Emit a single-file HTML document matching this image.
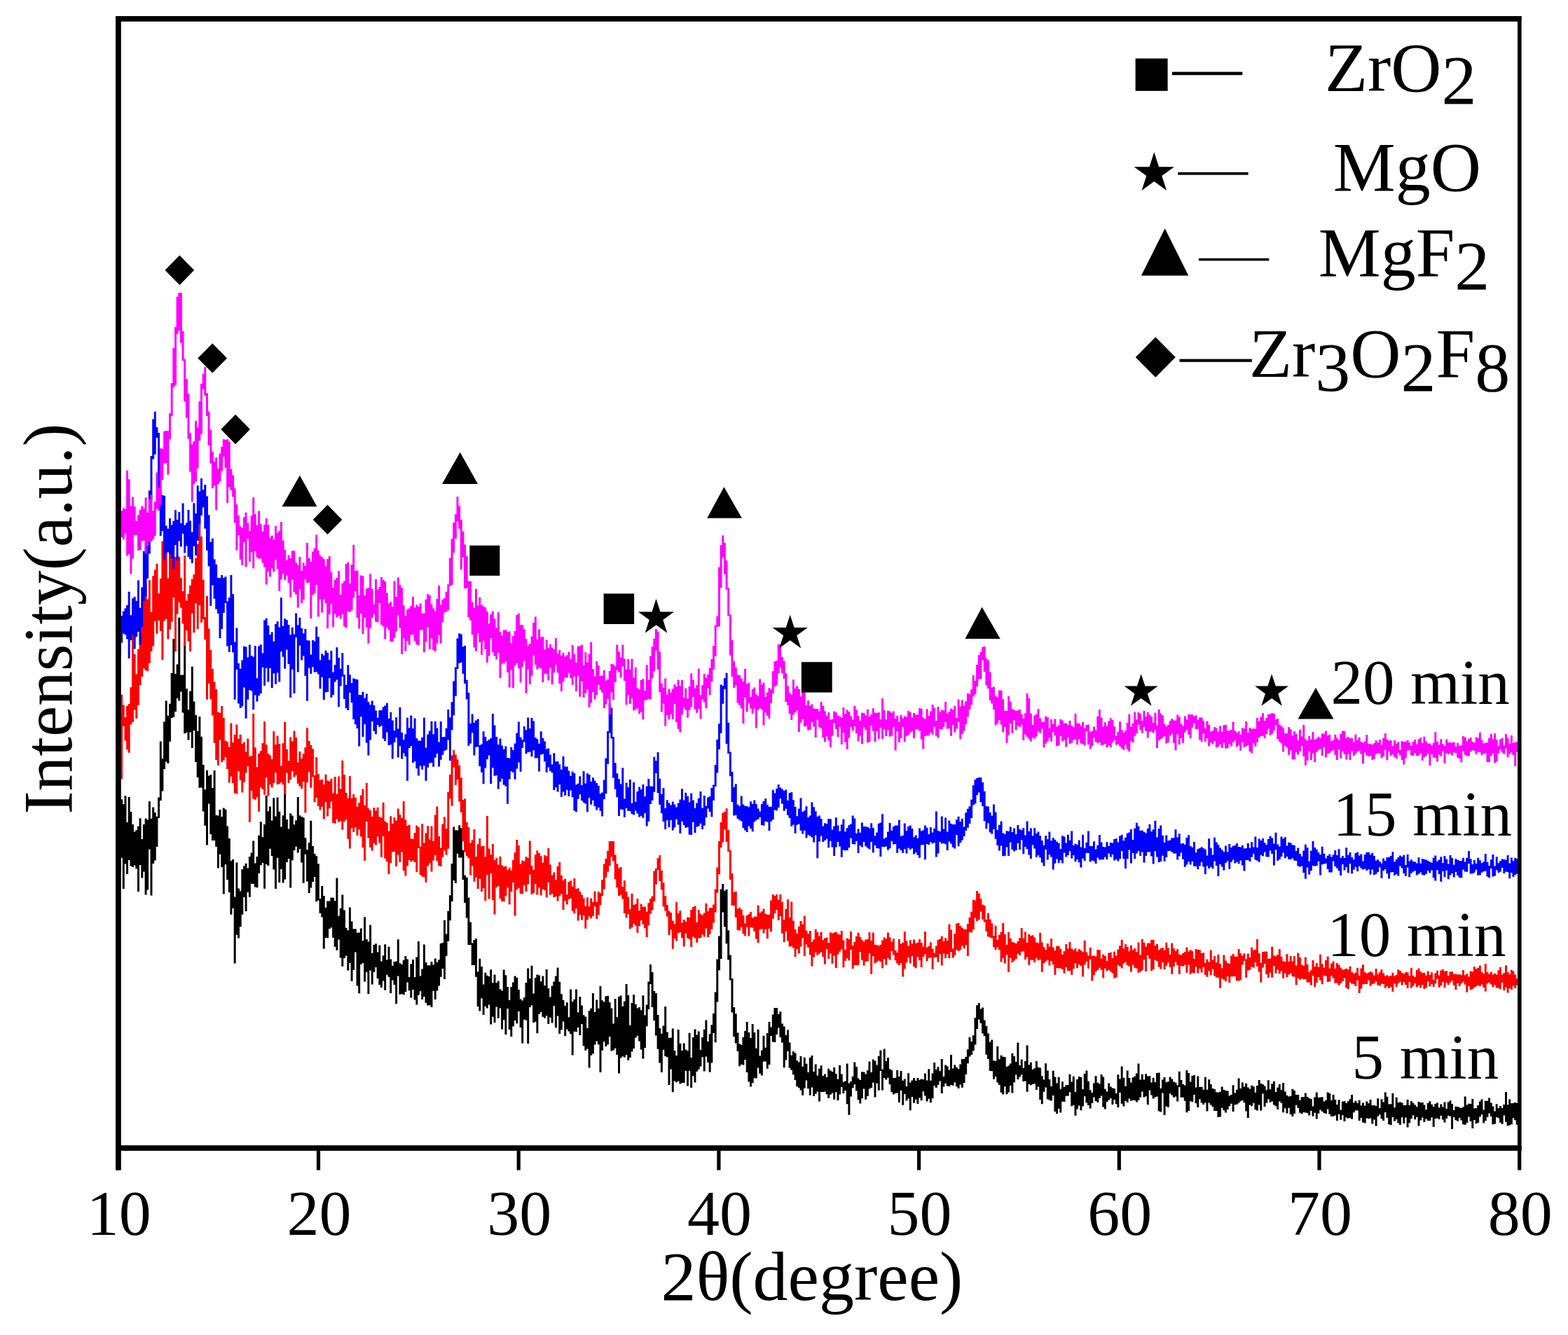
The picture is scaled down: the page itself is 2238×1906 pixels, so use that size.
<!DOCTYPE html>
<html><head><meta charset="utf-8"><title>XRD</title>
<style>
html,body{margin:0;padding:0;background:#fff;}
svg{display:block;}
text{font-family:"Liberation Serif","Times New Roman",serif;fill:#000;}
</style></head>
<body>
<svg xmlns="http://www.w3.org/2000/svg" width="2238" height="1906" viewBox="0 0 2238 1906">
<rect x="0" y="0" width="2238" height="1906" fill="#fff"/>
<g stroke="none">
<path fill="#000000" d="M168.8 1167.7h1.01v48.1h-1.01zM169.5 1137.7h2.95v108.0h-2.95zM172.2 1141.2h2.95v83.5h-2.95zM174.8 1148.3h2.95v120.6h-2.95zM177.5 1136.2h2.95v97.3h-2.95zM180.1 1174.0h2.95v74.0h-2.95zM182.7 1138.0h2.95v90.0h-2.95zM185.4 1159.0h2.95v77.4h-2.95zM188.0 1177.0h2.95v60.9h-2.95zM190.7 1187.6h2.95v48.0h-2.95zM193.3 1185.2h2.95v55.0h-2.95zM196.0 1179.8h2.95v93.2h-2.95zM198.6 1168.2h2.95v66.7h-2.95zM201.3 1197.9h2.95v55.7h-2.95zM203.9 1177.1h2.95v67.3h-2.95zM206.6 1168.4h2.95v109.0h-2.95zM209.2 1170.6h2.95v99.9h-2.95zM211.9 1143.9h2.95v68.8h-2.95zM214.5 1168.7h2.95v109.9h-2.95zM217.2 1152.4h2.95v80.7h-2.95zM219.8 1159.9h2.95v68.5h-2.95zM222.5 1165.7h2.95v43.2h-2.95zM225.1 1138.5h2.95v29.5h-2.95zM227.8 1058.4h2.95v84.7h-2.95zM230.4 1083.2h2.95v46.3h-2.95zM233.1 1030.6h2.95v67.4h-2.95zM235.7 1000.5h2.95v87.1h-2.95zM238.4 1021.7h2.95v68.2h-2.95zM241.0 1004.7h2.95v54.1h-2.95zM243.7 960.9h2.95v64.0h-2.95zM246.3 912.3h2.95v111.4h-2.95zM249.0 962.3h2.95v53.7h-2.95zM251.6 948.4h2.95v48.5h-2.95zM254.3 881.8h2.95v118.7h-2.95zM256.9 963.7h2.95v23.9h-2.95zM259.6 963.5h2.95v54.0h-2.95zM262.2 916.6h2.95v130.7h-2.95zM264.9 983.2h2.95v62.6h-2.95zM267.5 1013.2h2.95v43.4h-2.95zM270.1 986.8h2.95v58.8h-2.95zM272.8 951.8h2.95v116.3h-2.95zM275.4 1001.4h2.95v41.5h-2.95zM278.1 1020.8h2.95v67.2h-2.95zM280.7 1043.8h2.95v65.9h-2.95zM283.4 1023.1h2.95v101.6h-2.95zM286.0 1051.8h2.95v72.6h-2.95zM288.7 1091.9h2.95v66.6h-2.95zM291.3 1127.2h2.95v51.6h-2.95zM294.0 1099.7h2.95v106.7h-2.95zM296.6 1107.4h2.95v40.2h-2.95zM299.3 1106.0h2.95v84.9h-2.95zM301.9 1125.0h2.95v75.1h-2.95zM304.6 1100.1h2.95v99.8h-2.95zM307.2 1163.8h2.95v45.2h-2.95zM309.9 1164.6h2.95v74.9h-2.95zM312.5 1155.9h2.95v63.8h-2.95zM315.2 1166.1h2.95v71.8h-2.95zM317.8 1153.4h2.95v123.1h-2.95zM320.5 1155.7h2.95v78.5h-2.95zM323.1 1179.6h2.95v76.4h-2.95zM325.8 1196.9h2.95v77.0h-2.95zM328.4 1228.9h2.95v76.9h-2.95zM331.1 1227.0h2.95v69.7h-2.95zM333.7 1280.6h2.95v95.0h-2.95zM336.4 1231.6h2.95v103.2h-2.95zM339.0 1268.4h2.95v71.1h-2.95zM341.7 1272.2h2.95v51.0h-2.95zM344.3 1241.3h2.95v64.4h-2.95zM347.0 1236.6h2.95v44.4h-2.95zM349.6 1232.8h2.95v68.1h-2.95zM352.3 1239.4h2.95v34.7h-2.95zM354.9 1223.1h2.95v57.7h-2.95zM357.6 1217.4h2.95v44.4h-2.95zM360.2 1200.5h2.95v61.4h-2.95zM362.8 1232.4h2.95v34.1h-2.95zM365.5 1223.0h2.95v44.3h-2.95zM368.1 1192.7h2.95v54.4h-2.95zM370.8 1173.3h2.95v62.0h-2.95zM373.4 1195.2h2.95v36.7h-2.95zM376.1 1177.1h2.95v91.6h-2.95zM378.7 1135.7h2.95v98.3h-2.95zM381.4 1158.2h2.95v77.9h-2.95zM384.0 1151.5h2.95v60.3h-2.95zM386.7 1171.5h2.95v50.4h-2.95zM389.3 1139.3h2.95v102.1h-2.95zM392.0 1165.4h2.95v103.6h-2.95zM394.6 1138.4h2.95v86.4h-2.95zM397.3 1158.7h2.95v101.3h-2.95zM399.9 1180.6h2.95v60.5h-2.95zM402.6 1164.2h2.95v96.2h-2.95zM405.2 1103.8h2.95v151.8h-2.95zM407.9 1170.1h2.95v60.8h-2.95zM410.5 1183.5h2.95v42.5h-2.95zM413.2 1161.2h2.95v106.2h-2.95zM415.8 1164.5h2.95v63.8h-2.95zM418.5 1177.2h2.95v36.9h-2.95zM421.1 1171.2h2.95v37.6h-2.95zM423.8 1137.9h2.95v79.5h-2.95zM426.4 1164.2h2.95v47.9h-2.95zM429.1 1166.1h2.95v65.5h-2.95zM431.7 1167.2h2.95v93.6h-2.95zM434.4 1196.2h2.95v23.6h-2.95zM437.0 1213.2h2.95v45.2h-2.95zM439.7 1203.2h2.95v71.7h-2.95zM442.3 1171.7h2.95v95.7h-2.95zM445.0 1208.0h2.95v50.9h-2.95zM447.6 1218.9h2.95v33.1h-2.95zM450.2 1222.2h2.95v65.0h-2.95zM452.9 1233.3h2.95v52.1h-2.95zM455.5 1283.0h2.95v20.7h-2.95zM458.2 1265.0h2.95v44.6h-2.95zM460.8 1279.1h2.95v75.5h-2.95zM463.5 1295.8h2.95v43.3h-2.95zM466.1 1286.4h2.95v52.9h-2.95zM468.8 1286.5h2.95v39.5h-2.95zM471.4 1281.6h2.95v42.7h-2.95zM474.1 1281.7h2.95v57.1h-2.95zM476.7 1286.3h2.95v65.4h-2.95zM479.4 1253.5h2.95v103.3h-2.95zM482.0 1307.7h2.95v33.9h-2.95zM484.7 1296.7h2.95v70.8h-2.95zM487.3 1277.6h2.95v102.1h-2.95zM490.0 1299.6h2.95v68.3h-2.95zM492.6 1324.8h2.95v39.6h-2.95zM495.3 1328.2h2.95v57.3h-2.95zM497.9 1295.5h2.95v79.6h-2.95zM500.6 1315.6h2.95v85.2h-2.95zM503.2 1326.2h2.95v58.9h-2.95zM505.9 1326.2h2.95v33.4h-2.95zM508.5 1331.8h2.95v75.7h-2.95zM511.2 1331.5h2.95v86.7h-2.95zM513.8 1325.4h2.95v51.5h-2.95zM516.5 1343.0h2.95v32.0h-2.95zM519.1 1309.3h2.95v92.2h-2.95zM521.8 1340.9h2.95v47.1h-2.95zM524.4 1344.5h2.95v74.4h-2.95zM527.1 1320.5h2.95v65.0h-2.95zM529.7 1360.8h2.95v44.7h-2.95zM532.4 1348.9h2.95v38.9h-2.95zM535.0 1347.2h2.95v33.9h-2.95zM537.6 1359.4h2.95v37.6h-2.95zM540.3 1349.5h2.95v56.5h-2.95zM542.9 1372.4h2.95v37.6h-2.95zM545.6 1364.2h2.95v36.2h-2.95zM548.2 1348.3h2.95v65.4h-2.95zM550.9 1370.5h2.95v21.3h-2.95zM553.5 1351.8h2.95v43.0h-2.95zM556.2 1369.5h2.95v48.4h-2.95zM558.8 1378.8h2.95v20.7h-2.95zM561.5 1372.9h2.95v33.0h-2.95zM564.1 1372.6h2.95v60.6h-2.95zM566.8 1341.3h2.95v52.2h-2.95zM569.4 1375.2h2.95v44.5h-2.95zM572.1 1376.7h2.95v42.6h-2.95zM574.7 1370.7h2.95v49.5h-2.95zM577.4 1365.1h2.95v51.1h-2.95zM580.0 1369.5h2.95v33.1h-2.95zM582.7 1395.1h2.95v19.2h-2.95zM585.3 1376.3h2.95v48.2h-2.95zM588.0 1369.9h2.95v43.1h-2.95zM590.6 1394.9h2.95v32.5h-2.95zM593.3 1366.5h2.95v68.0h-2.95zM595.9 1344.0h2.95v76.7h-2.95zM598.6 1393.4h2.95v21.9h-2.95zM601.2 1383.4h2.95v43.7h-2.95zM603.9 1348.5h2.95v74.4h-2.95zM606.5 1374.1h2.95v57.7h-2.95zM609.2 1378.3h2.95v57.3h-2.95zM611.8 1378.3h2.95v56.6h-2.95zM614.5 1373.2h2.95v64.9h-2.95zM617.1 1377.4h2.95v37.3h-2.95zM619.8 1368.4h2.95v58.5h-2.95zM622.4 1373.7h2.95v40.8h-2.95zM625.1 1370.2h2.95v37.3h-2.95zM627.7 1347.0h2.95v47.8h-2.95zM630.3 1346.1h2.95v37.0h-2.95zM633.0 1313.8h2.95v84.3h-2.95zM635.6 1333.6h2.95v31.2h-2.95zM638.3 1300.7h2.95v43.1h-2.95zM640.9 1278.3h2.95v36.0h-2.95zM643.6 1233.1h2.95v53.8h-2.95zM646.2 1180.5h2.95v76.6h-2.95zM648.9 1185.3h2.95v75.7h-2.95zM651.5 1185.5h2.95v33.2h-2.95zM654.2 1178.3h2.95v46.3h-2.95zM656.8 1182.2h2.95v42.0h-2.95zM659.5 1213.7h2.95v42.2h-2.95zM662.1 1249.8h2.95v39.2h-2.95zM664.8 1252.7h2.95v57.7h-2.95zM667.4 1281.6h2.95v67.5h-2.95zM670.1 1316.5h2.95v32.4h-2.95zM672.7 1346.5h2.95v31.5h-2.95zM675.4 1342.1h2.95v36.0h-2.95zM678.0 1339.9h2.95v54.9h-2.95zM680.7 1387.3h2.95v49.6h-2.95zM683.3 1368.7h2.95v74.9h-2.95zM686.0 1380.0h2.95v45.3h-2.95zM688.6 1405.4h2.95v43.7h-2.95zM691.3 1388.7h2.95v48.0h-2.95zM693.9 1392.7h2.95v46.7h-2.95zM696.6 1394.0h2.95v40.5h-2.95zM699.2 1384.3h2.95v78.3h-2.95zM701.9 1403.2h2.95v48.5h-2.95zM704.5 1391.6h2.95v68.3h-2.95zM707.2 1403.2h2.95v34.3h-2.95zM709.8 1400.4h2.95v53.4h-2.95zM712.5 1412.2h2.95v27.2h-2.95zM715.1 1414.5h2.95v54.9h-2.95zM717.7 1384.5h2.95v71.8h-2.95zM720.4 1392.3h2.95v84.8h-2.95zM723.0 1409.0h2.95v30.9h-2.95zM725.7 1427.9h2.95v42.0h-2.95zM728.3 1409.1h2.95v70.9h-2.95zM731.0 1402.4h2.95v62.8h-2.95zM733.6 1393.6h2.95v63.3h-2.95zM736.3 1395.8h2.95v65.4h-2.95zM738.9 1413.0h2.95v31.1h-2.95zM741.6 1426.6h2.95v40.3h-2.95zM744.2 1428.5h2.95v61.1h-2.95zM746.9 1423.9h2.95v31.8h-2.95zM749.5 1403.1h2.95v53.3h-2.95zM752.2 1382.6h2.95v107.3h-2.95zM754.8 1397.1h2.95v41.0h-2.95zM757.5 1378.7h2.95v56.5h-2.95zM760.1 1418.6h2.95v41.5h-2.95zM762.8 1395.9h2.95v62.8h-2.95zM765.4 1391.4h2.95v83.8h-2.95zM768.1 1392.5h2.95v55.3h-2.95zM770.7 1401.2h2.95v43.7h-2.95zM773.4 1393.6h2.95v58.2h-2.95zM776.0 1407.1h2.95v46.5h-2.95zM778.7 1383.9h2.95v66.3h-2.95zM781.3 1411.1h2.95v51.0h-2.95zM784.0 1423.4h2.95v29.3h-2.95zM786.6 1407.5h2.95v53.1h-2.95zM789.3 1401.6h2.95v34.7h-2.95zM791.9 1393.4h2.95v73.9h-2.95zM794.6 1381.4h2.95v69.2h-2.95zM797.2 1401.7h2.95v74.2h-2.95zM799.9 1419.3h2.95v50.9h-2.95zM802.5 1428.0h2.95v30.5h-2.95zM805.2 1436.0h2.95v43.2h-2.95zM807.8 1431.3h2.95v38.3h-2.95zM810.4 1452.2h2.95v20.2h-2.95zM813.1 1412.4h2.95v63.9h-2.95zM815.7 1430.3h2.95v76.1h-2.95zM818.4 1426.7h2.95v46.0h-2.95zM821.0 1412.5h2.95v60.8h-2.95zM823.7 1445.2h2.95v21.7h-2.95zM826.3 1423.0h2.95v54.9h-2.95zM829.0 1435.5h2.95v26.6h-2.95zM831.6 1449.2h2.95v44.0h-2.95zM834.3 1451.4h2.95v48.4h-2.95zM836.9 1468.0h2.95v29.4h-2.95zM839.6 1443.3h2.95v81.2h-2.95zM842.2 1439.8h2.95v67.0h-2.95zM844.9 1418.1h2.95v86.4h-2.95zM847.5 1444.9h2.95v46.7h-2.95zM850.2 1427.4h2.95v59.2h-2.95zM852.8 1439.8h2.95v51.4h-2.95zM855.5 1407.8h2.95v123.3h-2.95zM858.1 1428.2h2.95v71.6h-2.95zM860.8 1430.4h2.95v56.9h-2.95zM863.4 1422.3h2.95v71.7h-2.95zM866.1 1421.8h2.95v69.4h-2.95zM868.7 1431.1h2.95v48.9h-2.95zM871.4 1439.5h2.95v60.9h-2.95zM874.0 1461.6h2.95v38.0h-2.95zM876.7 1426.0h2.95v70.7h-2.95zM879.3 1452.0h2.95v54.0h-2.95zM882.0 1423.1h2.95v109.5h-2.95zM884.6 1421.5h2.95v88.9h-2.95zM887.3 1436.8h2.95v71.4h-2.95zM889.9 1429.7h2.95v79.7h-2.95zM892.6 1405.1h2.95v100.9h-2.95zM895.2 1420.7h2.95v93.1h-2.95zM897.8 1463.8h2.95v46.1h-2.95zM900.5 1432.1h2.95v69.2h-2.95zM903.1 1420.0h2.95v76.9h-2.95zM905.8 1433.8h2.95v47.6h-2.95zM908.4 1439.5h2.95v39.2h-2.95zM911.1 1438.0h2.95v48.4h-2.95zM913.7 1442.2h2.95v56.4h-2.95zM916.4 1421.3h2.95v90.1h-2.95zM919.0 1449.4h2.95v46.6h-2.95zM921.7 1434.4h2.95v30.9h-2.95zM924.3 1401.6h2.95v39.5h-2.95zM927.0 1377.0h2.95v28.1h-2.95zM929.6 1388.1h2.95v49.9h-2.95zM932.3 1415.1h2.95v41.9h-2.95zM934.9 1418.0h2.95v60.6h-2.95zM937.6 1449.1h2.95v48.7h-2.95zM940.2 1468.1h2.95v49.3h-2.95zM942.9 1475.8h2.95v55.1h-2.95zM945.5 1464.6h2.95v34.2h-2.95zM948.2 1437.0h2.95v71.1h-2.95zM950.8 1473.6h2.95v35.7h-2.95zM953.5 1482.0h2.95v67.1h-2.95zM956.1 1481.4h2.95v45.0h-2.95zM958.8 1468.4h2.95v90.9h-2.95zM961.4 1500.0h2.95v43.6h-2.95zM964.1 1507.1h2.95v38.2h-2.95zM966.7 1469.9h2.95v73.5h-2.95zM969.4 1489.8h2.95v57.7h-2.95zM972.0 1499.9h2.95v46.2h-2.95zM974.7 1489.4h2.95v56.7h-2.95zM977.3 1498.5h2.95v30.4h-2.95zM980.0 1500.3h2.95v50.3h-2.95zM982.6 1474.7h2.95v54.4h-2.95zM985.2 1510.0h2.95v42.9h-2.95zM987.9 1481.0h2.95v55.2h-2.95zM990.5 1469.5h2.95v76.0h-2.95zM993.2 1477.5h2.95v52.2h-2.95zM995.8 1472.4h2.95v54.4h-2.95zM998.5 1499.1h2.95v23.3h-2.95zM1001.1 1481.1h2.95v28.2h-2.95zM1003.8 1469.7h2.95v59.8h-2.95zM1006.4 1456.6h2.95v51.8h-2.95zM1009.1 1487.0h2.95v29.8h-2.95zM1011.7 1476.2h2.95v54.6h-2.95zM1014.4 1463.3h2.95v54.3h-2.95zM1017.0 1446.9h2.95v28.2h-2.95zM1019.7 1416.6h2.95v71.6h-2.95zM1022.3 1369.5h2.95v61.0h-2.95zM1025.0 1336.6h2.95v48.7h-2.95zM1027.6 1269.6h2.95v99.4h-2.95zM1030.3 1262.0h2.95v40.4h-2.95zM1032.9 1271.8h2.95v51.4h-2.95zM1035.6 1269.8h2.95v77.4h-2.95zM1038.2 1328.3h2.95v42.2h-2.95zM1040.9 1363.5h2.95v36.0h-2.95zM1043.5 1397.0h2.95v48.4h-2.95zM1046.2 1437.9h2.95v42.0h-2.95zM1048.8 1447.2h2.95v42.4h-2.95zM1051.5 1474.6h2.95v26.1h-2.95zM1054.1 1490.3h2.95v31.9h-2.95zM1056.8 1491.8h2.95v27.9h-2.95zM1059.4 1480.8h2.95v39.6h-2.95zM1062.1 1472.1h2.95v41.0h-2.95zM1064.7 1458.9h2.95v72.2h-2.95zM1067.4 1474.0h2.95v70.5h-2.95zM1070.0 1482.0h2.95v69.5h-2.95zM1072.7 1462.0h2.95v84.3h-2.95zM1075.3 1473.9h2.95v65.3h-2.95zM1077.9 1496.7h2.95v42.8h-2.95zM1080.6 1469.7h2.95v54.7h-2.95zM1083.2 1507.4h2.95v25.3h-2.95zM1085.9 1499.4h2.95v36.1h-2.95zM1088.5 1478.7h2.95v36.7h-2.95zM1091.2 1495.7h2.95v19.8h-2.95zM1093.8 1475.0h2.95v50.8h-2.95zM1096.5 1459.0h2.95v61.0h-2.95zM1099.1 1466.4h2.95v12.6h-2.95zM1101.8 1448.5h2.95v39.0h-2.95zM1104.4 1439.0h2.95v48.9h-2.95zM1107.1 1439.0h2.95v37.9h-2.95zM1109.7 1447.8h2.95v19.7h-2.95zM1112.4 1444.2h2.95v36.9h-2.95zM1115.0 1461.6h2.95v26.9h-2.95zM1117.7 1465.5h2.95v58.8h-2.95zM1120.3 1477.7h2.95v35.9h-2.95zM1123.0 1470.4h2.95v30.3h-2.95zM1125.6 1488.6h2.95v36.2h-2.95zM1128.3 1506.7h2.95v21.0h-2.95zM1130.9 1501.1h2.95v33.1h-2.95zM1133.6 1503.4h2.95v38.6h-2.95zM1136.2 1514.3h2.95v37.0h-2.95zM1138.9 1516.6h2.95v36.5h-2.95zM1141.5 1507.9h2.95v48.5h-2.95zM1144.2 1522.7h2.95v41.0h-2.95zM1146.8 1509.7h2.95v44.1h-2.95zM1149.5 1518.8h2.95v23.6h-2.95zM1152.1 1531.0h2.95v23.3h-2.95zM1154.8 1510.1h2.95v53.6h-2.95zM1157.4 1507.0h2.95v45.5h-2.95zM1160.1 1530.0h2.95v35.1h-2.95zM1162.7 1519.5h2.95v42.3h-2.95zM1165.3 1535.4h2.95v23.1h-2.95zM1168.0 1525.7h2.95v46.8h-2.95zM1170.6 1521.3h2.95v37.7h-2.95zM1173.3 1536.0h2.95v23.0h-2.95zM1175.9 1533.5h2.95v25.0h-2.95zM1178.6 1537.9h2.95v24.3h-2.95zM1181.2 1525.8h2.95v41.9h-2.95zM1183.9 1528.4h2.95v34.3h-2.95zM1186.5 1530.3h2.95v30.1h-2.95zM1189.2 1523.9h2.95v45.9h-2.95zM1191.8 1533.2h2.95v26.0h-2.95zM1194.5 1540.7h2.95v30.3h-2.95zM1197.1 1520.8h2.95v41.6h-2.95zM1199.8 1533.6h2.95v18.3h-2.95zM1202.4 1544.7h2.95v16.3h-2.95zM1205.1 1543.5h2.95v13.6h-2.95zM1207.7 1518.5h2.95v57.8h-2.95zM1210.4 1546.4h2.95v45.3h-2.95zM1213.0 1543.9h2.95v21.5h-2.95zM1215.7 1536.8h2.95v16.4h-2.95zM1218.3 1516.4h2.95v31.9h-2.95zM1221.0 1522.9h2.95v34.7h-2.95zM1223.6 1539.6h2.95v30.6h-2.95zM1226.3 1541.9h2.95v33.6h-2.95zM1228.9 1530.3h2.95v38.0h-2.95zM1231.6 1530.5h2.95v23.9h-2.95zM1234.2 1533.6h2.95v36.1h-2.95zM1236.9 1528.0h2.95v37.0h-2.95zM1239.5 1515.6h2.95v38.8h-2.95zM1242.2 1531.1h2.95v22.0h-2.95zM1244.8 1512.4h2.95v33.4h-2.95zM1247.5 1514.4h2.95v52.0h-2.95zM1250.1 1520.6h2.95v26.1h-2.95zM1252.8 1507.7h2.95v49.1h-2.95zM1255.4 1499.4h2.95v29.7h-2.95zM1258.0 1526.7h2.95v29.7h-2.95zM1260.7 1497.6h2.95v41.4h-2.95zM1263.3 1515.1h2.95v26.4h-2.95zM1266.0 1509.9h2.95v28.8h-2.95zM1268.6 1526.2h2.95v22.0h-2.95zM1271.3 1527.7h2.95v31.2h-2.95zM1273.9 1538.9h2.95v23.6h-2.95zM1276.6 1538.8h2.95v22.3h-2.95zM1279.2 1527.8h2.95v32.6h-2.95zM1281.9 1536.8h2.95v37.2h-2.95zM1284.5 1529.0h2.95v28.1h-2.95zM1287.2 1542.8h2.95v35.0h-2.95zM1289.8 1540.6h2.95v21.5h-2.95zM1292.5 1550.9h2.95v20.7h-2.95zM1295.1 1532.3h2.95v36.1h-2.95zM1297.8 1545.6h2.95v39.7h-2.95zM1300.4 1542.5h2.95v23.4h-2.95zM1303.1 1539.0h2.95v35.7h-2.95zM1305.7 1543.0h2.95v26.7h-2.95zM1308.4 1538.9h2.95v37.2h-2.95zM1311.0 1541.7h2.95v25.9h-2.95zM1313.7 1540.4h2.95v30.8h-2.95zM1316.3 1541.3h2.95v17.0h-2.95zM1319.0 1532.5h2.95v32.1h-2.95zM1321.6 1542.4h2.95v30.1h-2.95zM1324.3 1526.3h2.95v42.4h-2.95zM1326.9 1542.7h2.95v31.6h-2.95zM1329.6 1532.6h2.95v35.7h-2.95zM1332.2 1517.1h2.95v33.1h-2.95zM1334.9 1527.1h2.95v25.9h-2.95zM1337.5 1523.2h2.95v25.5h-2.95zM1340.2 1529.2h2.95v14.4h-2.95zM1342.8 1511.9h2.95v49.2h-2.95zM1345.4 1537.0h2.95v14.6h-2.95zM1348.1 1520.6h2.95v26.1h-2.95zM1350.7 1522.6h2.95v27.9h-2.95zM1353.4 1527.6h2.95v23.4h-2.95zM1356.0 1506.0h2.95v42.9h-2.95zM1358.7 1525.5h2.95v24.3h-2.95zM1361.3 1520.5h2.95v24.9h-2.95zM1364.0 1523.9h2.95v27.3h-2.95zM1366.6 1526.3h2.95v27.8h-2.95zM1369.3 1519.6h2.95v28.8h-2.95zM1371.9 1511.9h2.95v40.9h-2.95zM1374.6 1512.0h2.95v33.9h-2.95zM1377.2 1509.1h2.95v24.8h-2.95zM1379.9 1498.3h2.95v20.0h-2.95zM1382.5 1480.7h2.95v27.7h-2.95zM1385.2 1486.9h2.95v19.0h-2.95zM1387.8 1478.2h2.95v22.1h-2.95zM1390.5 1453.0h2.95v38.4h-2.95zM1393.1 1435.3h2.95v33.6h-2.95zM1395.8 1432.0h2.95v23.4h-2.95zM1398.4 1440.4h2.95v20.3h-2.95zM1401.1 1438.4h2.95v37.1h-2.95zM1403.7 1456.4h2.95v22.8h-2.95zM1406.4 1464.7h2.95v41.0h-2.95zM1409.0 1475.4h2.95v36.7h-2.95zM1411.7 1487.4h2.95v41.7h-2.95zM1414.3 1484.4h2.95v44.9h-2.95zM1417.0 1514.3h2.95v26.4h-2.95zM1419.6 1514.7h2.95v22.3h-2.95zM1422.3 1493.7h2.95v51.8h-2.95zM1424.9 1512.2h2.95v36.9h-2.95zM1427.6 1506.8h2.95v52.9h-2.95zM1430.2 1508.7h2.95v53.7h-2.95zM1432.8 1509.3h2.95v42.0h-2.95zM1435.5 1523.1h2.95v39.1h-2.95zM1438.1 1521.4h2.95v38.2h-2.95zM1440.8 1518.6h2.95v31.4h-2.95zM1443.4 1503.8h2.95v56.7h-2.95zM1446.1 1507.9h2.95v37.4h-2.95zM1448.7 1516.0h2.95v18.4h-2.95zM1451.4 1488.7h2.95v52.2h-2.95zM1454.0 1521.0h2.95v16.5h-2.95zM1456.7 1512.4h2.95v21.9h-2.95zM1459.3 1524.7h2.95v19.3h-2.95zM1462.0 1515.0h2.95v28.5h-2.95zM1464.6 1492.6h2.95v66.2h-2.95zM1467.3 1520.2h2.95v27.8h-2.95zM1469.9 1516.8h2.95v32.5h-2.95zM1472.6 1527.1h2.95v21.0h-2.95zM1475.2 1525.3h2.95v21.9h-2.95zM1477.9 1514.9h2.95v41.0h-2.95zM1480.5 1523.8h2.95v27.7h-2.95zM1483.2 1524.4h2.95v45.7h-2.95zM1485.8 1536.2h2.95v40.1h-2.95zM1488.5 1541.6h2.95v17.1h-2.95zM1491.1 1518.2h2.95v34.2h-2.95zM1493.8 1528.6h2.95v40.9h-2.95zM1496.4 1541.0h2.95v29.5h-2.95zM1499.1 1550.9h2.95v20.7h-2.95zM1501.7 1528.8h2.95v35.3h-2.95zM1504.4 1537.5h2.95v49.6h-2.95zM1507.0 1546.4h2.95v43.6h-2.95zM1509.7 1537.7h2.95v45.1h-2.95zM1512.3 1554.8h2.95v33.7h-2.95zM1515.0 1544.3h2.95v28.4h-2.95zM1517.6 1552.1h2.95v20.9h-2.95zM1520.3 1549.3h2.95v15.4h-2.95zM1522.9 1548.9h2.95v15.7h-2.95zM1525.5 1533.8h2.95v25.4h-2.95zM1528.2 1544.4h2.95v34.8h-2.95zM1530.8 1536.7h2.95v41.1h-2.95zM1533.5 1558.7h2.95v34.0h-2.95zM1536.1 1541.1h2.95v42.4h-2.95zM1538.8 1537.1h2.95v41.4h-2.95zM1541.4 1537.8h2.95v47.4h-2.95zM1544.1 1555.0h2.95v24.5h-2.95zM1546.7 1532.9h2.95v32.4h-2.95zM1549.4 1528.6h2.95v45.9h-2.95zM1552.0 1543.7h2.95v34.2h-2.95zM1554.7 1556.2h2.95v26.2h-2.95zM1557.3 1560.0h2.95v15.0h-2.95zM1560.0 1546.5h2.95v20.1h-2.95zM1562.6 1536.2h2.95v35.8h-2.95zM1565.3 1545.8h2.95v28.1h-2.95zM1567.9 1547.5h2.95v20.4h-2.95zM1570.6 1534.1h2.95v30.3h-2.95zM1573.2 1537.6h2.95v42.8h-2.95zM1575.9 1554.7h2.95v28.8h-2.95zM1578.5 1558.6h2.95v14.6h-2.95zM1581.2 1546.6h2.95v23.8h-2.95zM1583.8 1551.6h2.95v16.3h-2.95zM1586.5 1553.6h2.95v23.5h-2.95zM1589.1 1554.3h2.95v15.8h-2.95zM1591.8 1561.1h2.95v15.1h-2.95zM1594.4 1534.3h2.95v46.7h-2.95zM1597.1 1540.5h2.95v19.4h-2.95zM1599.7 1522.5h2.95v53.2h-2.95zM1602.4 1538.7h2.95v40.7h-2.95zM1605.0 1550.8h2.95v21.0h-2.95zM1607.7 1528.4h2.95v45.7h-2.95zM1610.3 1539.1h2.95v29.4h-2.95zM1612.9 1545.5h2.95v26.2h-2.95zM1615.6 1538.3h2.95v32.4h-2.95zM1618.2 1536.7h2.95v34.4h-2.95zM1620.9 1532.5h2.95v41.0h-2.95zM1623.5 1518.4h2.95v52.3h-2.95zM1626.2 1541.5h2.95v25.3h-2.95zM1628.8 1533.7h2.95v24.9h-2.95zM1631.5 1541.6h2.95v25.0h-2.95zM1634.1 1533.2h2.95v32.0h-2.95zM1636.8 1536.5h2.95v40.8h-2.95zM1639.4 1536.3h2.95v20.5h-2.95zM1642.1 1545.5h2.95v18.0h-2.95zM1644.7 1538.7h2.95v29.7h-2.95zM1647.4 1544.9h2.95v21.5h-2.95zM1650.0 1532.0h2.95v33.6h-2.95zM1652.7 1531.5h2.95v54.9h-2.95zM1655.3 1553.9h2.95v33.6h-2.95zM1658.0 1541.4h2.95v19.0h-2.95zM1660.6 1537.9h2.95v54.0h-2.95zM1663.3 1545.3h2.95v34.1h-2.95zM1665.9 1544.3h2.95v36.4h-2.95zM1668.6 1537.5h2.95v23.8h-2.95zM1671.2 1540.4h2.95v23.1h-2.95zM1673.9 1544.6h2.95v22.1h-2.95zM1676.5 1545.8h2.95v19.8h-2.95zM1679.2 1549.2h2.95v23.4h-2.95zM1681.8 1529.7h2.95v22.4h-2.95zM1684.5 1541.9h2.95v24.8h-2.95zM1687.1 1548.1h2.95v18.7h-2.95zM1689.8 1549.6h2.95v22.2h-2.95zM1692.4 1528.0h2.95v60.2h-2.95zM1695.1 1532.0h2.95v54.1h-2.95zM1697.7 1544.6h2.95v27.6h-2.95zM1700.4 1535.9h2.95v37.3h-2.95zM1703.0 1535.1h2.95v28.0h-2.95zM1705.6 1552.6h2.95v22.6h-2.95zM1708.3 1536.4h2.95v44.7h-2.95zM1710.9 1552.0h2.95v17.2h-2.95zM1713.6 1551.7h2.95v22.7h-2.95zM1716.2 1555.7h2.95v21.4h-2.95zM1718.9 1537.7h2.95v36.8h-2.95zM1721.5 1555.8h2.95v30.8h-2.95zM1724.2 1541.2h2.95v33.2h-2.95zM1726.8 1548.0h2.95v29.5h-2.95zM1729.5 1554.0h2.95v26.2h-2.95zM1732.1 1554.9h2.95v31.2h-2.95zM1734.8 1559.2h2.95v26.8h-2.95zM1737.4 1559.7h2.95v35.4h-2.95zM1740.1 1558.7h2.95v35.7h-2.95zM1742.7 1551.4h2.95v30.4h-2.95zM1745.4 1556.1h2.95v29.1h-2.95zM1748.0 1556.9h2.95v31.6h-2.95zM1750.7 1557.4h2.95v26.7h-2.95zM1753.3 1564.4h2.95v14.9h-2.95zM1756.0 1563.1h2.95v12.6h-2.95zM1758.6 1549.3h2.95v37.6h-2.95zM1761.3 1560.4h2.95v16.8h-2.95zM1763.9 1555.7h2.95v21.1h-2.95zM1766.6 1539.5h2.95v35.2h-2.95zM1769.2 1554.0h2.95v18.3h-2.95zM1771.9 1545.4h2.95v25.5h-2.95zM1774.5 1551.4h2.95v22.9h-2.95zM1777.2 1546.8h2.95v39.8h-2.95zM1779.8 1552.4h2.95v43.7h-2.95zM1782.5 1554.8h2.95v22.7h-2.95zM1785.1 1549.8h2.95v29.4h-2.95zM1787.8 1551.3h2.95v23.6h-2.95zM1790.4 1559.7h2.95v24.6h-2.95zM1793.0 1549.9h2.95v35.6h-2.95zM1795.7 1542.1h2.95v35.5h-2.95zM1798.3 1546.9h2.95v38.7h-2.95zM1801.0 1548.2h2.95v13.4h-2.95zM1803.6 1550.6h2.95v29.4h-2.95zM1806.3 1556.2h2.95v18.6h-2.95zM1808.9 1542.3h2.95v27.0h-2.95zM1811.6 1555.3h2.95v18.5h-2.95zM1814.2 1547.6h2.95v25.0h-2.95zM1816.9 1543.7h2.95v33.8h-2.95zM1819.5 1559.1h2.95v20.2h-2.95zM1822.2 1552.7h2.95v31.4h-2.95zM1824.8 1548.1h2.95v24.4h-2.95zM1827.5 1556.2h2.95v18.6h-2.95zM1830.1 1546.1h2.95v42.1h-2.95zM1832.8 1558.4h2.95v23.8h-2.95zM1835.4 1563.9h2.95v25.6h-2.95zM1838.1 1565.5h2.95v16.3h-2.95zM1840.7 1564.8h2.95v26.2h-2.95zM1843.4 1554.7h2.95v39.4h-2.95zM1846.0 1557.0h2.95v32.9h-2.95zM1848.7 1563.0h2.95v14.7h-2.95zM1851.3 1563.1h2.95v18.7h-2.95zM1854.0 1570.8h2.95v18.0h-2.95zM1856.6 1566.2h2.95v24.1h-2.95zM1859.3 1566.3h2.95v21.7h-2.95zM1861.9 1560.6h2.95v28.0h-2.95zM1864.6 1565.9h2.95v23.0h-2.95zM1867.2 1568.1h2.95v24.4h-2.95zM1869.9 1569.0h2.95v16.9h-2.95zM1872.5 1579.4h2.95v14.3h-2.95zM1875.2 1566.4h2.95v22.3h-2.95zM1877.8 1559.5h2.95v37.9h-2.95zM1880.4 1566.9h2.95v22.9h-2.95zM1883.1 1566.7h2.95v17.9h-2.95zM1885.7 1566.3h2.95v20.5h-2.95zM1888.4 1572.5h2.95v16.6h-2.95zM1891.0 1570.7h2.95v19.3h-2.95zM1893.7 1559.6h2.95v23.9h-2.95zM1896.3 1561.1h2.95v29.6h-2.95zM1899.0 1570.7h2.95v23.4h-2.95zM1901.6 1563.0h2.95v30.8h-2.95zM1904.3 1569.9h2.95v22.5h-2.95zM1906.9 1577.3h2.95v22.8h-2.95zM1909.6 1570.3h2.95v20.5h-2.95zM1912.2 1584.7h2.95v14.1h-2.95zM1914.9 1572.8h2.95v19.3h-2.95zM1917.5 1571.9h2.95v29.2h-2.95zM1920.2 1575.0h2.95v20.4h-2.95zM1922.8 1572.3h2.95v24.5h-2.95zM1925.5 1569.2h2.95v26.8h-2.95zM1928.1 1563.0h2.95v34.7h-2.95zM1930.8 1574.4h2.95v13.9h-2.95zM1933.4 1571.8h2.95v13.7h-2.95zM1936.1 1575.0h2.95v10.4h-2.95zM1938.7 1570.8h2.95v29.3h-2.95zM1941.4 1578.2h2.95v17.7h-2.95zM1944.0 1574.6h2.95v27.8h-2.95zM1946.7 1578.8h2.95v24.6h-2.95zM1949.3 1572.4h2.95v24.0h-2.95zM1952.0 1575.2h2.95v22.1h-2.95zM1954.6 1570.0h2.95v26.5h-2.95zM1957.3 1578.2h2.95v26.4h-2.95zM1959.9 1577.9h2.95v20.6h-2.95zM1962.6 1579.1h2.95v28.3h-2.95zM1965.2 1568.3h2.95v25.5h-2.95zM1967.9 1582.0h2.95v9.3h-2.95zM1970.5 1569.2h2.95v28.0h-2.95zM1973.1 1573.6h2.95v26.4h-2.95zM1975.8 1559.6h2.95v28.4h-2.95zM1978.4 1565.7h2.95v30.4h-2.95zM1981.1 1576.6h2.95v28.7h-2.95zM1983.7 1576.2h2.95v30.0h-2.95zM1986.4 1560.7h2.95v34.2h-2.95zM1989.0 1581.3h2.95v19.4h-2.95zM1991.7 1566.8h2.95v31.2h-2.95zM1994.3 1574.2h2.95v29.2h-2.95zM1997.0 1573.4h2.95v32.6h-2.95zM1999.6 1574.5h2.95v20.8h-2.95zM2002.3 1578.0h2.95v26.0h-2.95zM2004.9 1577.8h2.95v17.7h-2.95zM2007.6 1570.1h2.95v39.4h-2.95zM2010.2 1578.1h2.95v25.1h-2.95zM2012.9 1572.0h2.95v25.3h-2.95zM2015.5 1574.8h2.95v17.5h-2.95zM2018.2 1577.5h2.95v20.7h-2.95zM2020.8 1580.3h2.95v14.5h-2.95zM2023.5 1573.0h2.95v34.6h-2.95zM2026.1 1574.2h2.95v25.3h-2.95zM2028.8 1574.1h2.95v21.3h-2.95zM2031.4 1577.6h2.95v24.3h-2.95zM2034.1 1584.2h2.95v13.4h-2.95zM2036.7 1575.0h2.95v25.0h-2.95zM2039.4 1572.3h2.95v27.7h-2.95zM2042.0 1576.8h2.95v18.8h-2.95zM2044.7 1580.1h2.95v29.0h-2.95zM2047.3 1576.0h2.95v21.3h-2.95zM2050.0 1574.6h2.95v21.8h-2.95zM2052.6 1581.5h2.95v16.5h-2.95zM2055.3 1576.4h2.95v16.3h-2.95zM2057.9 1580.6h2.95v17.8h-2.95zM2060.5 1573.5h2.95v28.9h-2.95zM2063.2 1583.1h2.95v13.8h-2.95zM2065.8 1573.5h2.95v19.3h-2.95zM2068.5 1571.2h2.95v22.6h-2.95zM2071.1 1576.1h2.95v36.0h-2.95zM2073.8 1585.0h2.95v9.9h-2.95zM2076.4 1579.8h2.95v19.5h-2.95zM2079.1 1580.2h2.95v20.6h-2.95zM2081.7 1581.2h2.95v14.9h-2.95zM2084.4 1581.9h2.95v17.7h-2.95zM2087.0 1580.6h2.95v24.6h-2.95zM2089.7 1565.6h2.95v40.2h-2.95zM2092.3 1577.4h2.95v25.7h-2.95zM2095.0 1575.8h2.95v18.8h-2.95zM2097.6 1576.1h2.95v24.9h-2.95zM2100.3 1568.9h2.95v42.1h-2.95zM2102.9 1582.4h2.95v16.7h-2.95zM2105.6 1582.0h2.95v22.2h-2.95zM2108.2 1577.9h2.95v25.0h-2.95zM2110.9 1572.6h2.95v21.9h-2.95zM2113.5 1569.4h2.95v21.9h-2.95zM2116.2 1584.4h2.95v19.2h-2.95zM2118.8 1571.7h2.95v28.6h-2.95zM2121.5 1571.7h2.95v23.2h-2.95zM2124.1 1567.6h2.95v21.8h-2.95zM2126.8 1574.4h2.95v19.7h-2.95zM2129.4 1579.5h2.95v25.8h-2.95zM2132.1 1586.4h2.95v18.2h-2.95zM2134.7 1576.2h2.95v18.9h-2.95zM2137.4 1582.2h2.95v14.1h-2.95zM2140.0 1579.1h2.95v23.6h-2.95zM2142.7 1582.1h2.95v22.6h-2.95zM2145.3 1576.9h2.95v15.6h-2.95zM2148.0 1559.1h2.95v42.6h-2.95zM2150.6 1577.2h2.95v30.0h-2.95zM2153.2 1569.5h2.95v36.9h-2.95zM2155.9 1575.3h2.95v30.0h-2.95zM2158.5 1575.1h2.95v21.2h-2.95zM2161.2 1574.1h2.95v25.1h-2.95zM2163.8 1574.8h2.95v30.9h-2.95zM2166.5 1578.5h2.51v21.7h-2.51z"/>
<path fill="#ff0000" d="M168.8 985.7h1.01v106.3h-1.01zM169.5 1013.4h2.95v41.0h-2.95zM172.2 991.7h2.95v120.5h-2.95zM174.8 1006.5h2.95v30.3h-2.95zM177.5 1024.0h2.95v33.5h-2.95zM180.1 1008.1h2.95v62.2h-2.95zM182.7 1005.1h2.95v69.7h-2.95zM185.4 981.3h2.95v53.1h-2.95zM188.0 903.6h2.95v127.3h-2.95zM190.7 933.9h2.95v79.6h-2.95zM193.3 962.3h2.95v63.5h-2.95zM196.0 926.7h2.95v80.1h-2.95zM198.6 903.7h2.95v74.4h-2.95zM201.3 854.2h2.95v112.1h-2.95zM203.9 850.5h2.95v103.9h-2.95zM206.6 834.7h2.95v122.4h-2.95zM209.2 855.6h2.95v102.6h-2.95zM211.9 828.2h2.95v118.9h-2.95zM214.5 874.1h2.95v56.0h-2.95zM217.2 822.2h2.95v100.2h-2.95zM219.8 813.4h2.95v73.7h-2.95zM222.5 804.7h2.95v100.1h-2.95zM225.1 847.2h2.95v38.7h-2.95zM227.8 826.3h2.95v74.8h-2.95zM230.4 772.8h2.95v169.1h-2.95zM233.1 759.1h2.95v127.1h-2.95zM235.7 791.1h2.95v92.7h-2.95zM238.4 825.4h2.95v87.2h-2.95zM241.0 785.6h2.95v113.1h-2.95zM243.7 795.9h2.95v91.8h-2.95zM246.3 800.1h2.95v53.0h-2.95zM249.0 795.2h2.95v135.2h-2.95zM251.6 792.8h2.95v84.0h-2.95zM254.3 795.1h2.95v65.1h-2.95zM256.9 825.1h2.95v42.7h-2.95zM259.6 844.1h2.95v46.4h-2.95zM262.2 793.2h2.95v129.2h-2.95zM264.9 857.6h2.95v42.6h-2.95zM267.5 847.8h2.95v67.7h-2.95zM270.1 835.7h2.95v94.6h-2.95zM272.8 826.8h2.95v49.3h-2.95zM275.4 820.3h2.95v83.0h-2.95zM278.1 796.8h2.95v64.6h-2.95zM280.7 776.6h2.95v121.4h-2.95zM283.4 707.8h2.95v156.4h-2.95zM286.0 765.9h2.95v122.9h-2.95zM288.7 827.9h2.95v56.2h-2.95zM291.3 880.9h2.95v32.4h-2.95zM294.0 851.1h2.95v147.7h-2.95zM296.6 897.3h2.95v78.7h-2.95zM299.3 928.0h2.95v70.3h-2.95zM301.9 955.0h2.95v66.4h-2.95zM304.6 973.6h2.95v87.1h-2.95zM307.2 984.0h2.95v100.9h-2.95zM309.9 1016.7h2.95v76.1h-2.95zM312.5 1017.8h2.95v38.7h-2.95zM315.2 1008.1h2.95v79.8h-2.95zM317.8 1024.9h2.95v60.7h-2.95zM320.5 1057.4h2.95v23.7h-2.95zM323.1 1059.3h2.95v38.7h-2.95zM325.8 1066.4h2.95v51.1h-2.95zM328.4 1032.5h2.95v76.2h-2.95zM331.1 1060.1h2.95v57.9h-2.95zM333.7 1048.8h2.95v83.7h-2.95zM336.4 1034.6h2.95v99.0h-2.95zM339.0 1054.7h2.95v46.2h-2.95zM341.7 1048.7h2.95v65.4h-2.95zM344.3 1061.7h2.95v69.7h-2.95zM347.0 1059.6h2.95v57.3h-2.95zM349.6 1073.6h2.95v29.9h-2.95zM352.3 1054.4h2.95v39.7h-2.95zM354.9 1080.0h2.95v93.7h-2.95zM357.6 1079.2h2.95v49.5h-2.95zM360.2 1018.9h2.95v121.5h-2.95zM362.8 1067.3h2.95v74.4h-2.95zM365.5 1095.3h2.95v42.9h-2.95zM368.1 1075.8h2.95v82.9h-2.95zM370.8 1072.3h2.95v51.9h-2.95zM373.4 1061.0h2.95v65.9h-2.95zM376.1 1029.9h2.95v104.9h-2.95zM378.7 1062.9h2.95v47.0h-2.95zM381.4 1076.1h2.95v60.4h-2.95zM384.0 1078.5h2.95v41.7h-2.95zM386.7 1084.0h2.95v40.5h-2.95zM389.3 1043.9h2.95v74.1h-2.95zM392.0 1063.0h2.95v40.3h-2.95zM394.6 1050.4h2.95v69.7h-2.95zM397.3 1062.1h2.95v57.0h-2.95zM399.9 1093.4h2.95v23.5h-2.95zM402.6 1061.1h2.95v59.2h-2.95zM405.2 1030.8h2.95v102.9h-2.95zM407.9 1069.8h2.95v33.8h-2.95zM410.5 1086.3h2.95v31.7h-2.95zM413.2 1052.5h2.95v60.6h-2.95zM415.8 1058.5h2.95v42.5h-2.95zM418.5 1043.5h2.95v66.0h-2.95zM421.1 1052.7h2.95v54.1h-2.95zM423.8 1088.4h2.95v30.4h-2.95zM426.4 1072.7h2.95v49.9h-2.95zM429.1 1083.0h2.95v43.1h-2.95zM431.7 1076.2h2.95v39.8h-2.95zM434.4 1067.1h2.95v93.5h-2.95zM437.0 1039.0h2.95v78.3h-2.95zM439.7 1058.0h2.95v44.2h-2.95zM442.3 1063.7h2.95v61.1h-2.95zM445.0 1069.2h2.95v40.1h-2.95zM447.6 1106.9h2.95v38.3h-2.95zM450.2 1081.0h2.95v58.0h-2.95zM452.9 1105.2h2.95v45.7h-2.95zM455.5 1114.0h2.95v42.4h-2.95zM458.2 1112.8h2.95v39.0h-2.95zM460.8 1119.9h2.95v49.7h-2.95zM463.5 1105.8h2.95v39.3h-2.95zM466.1 1114.6h2.95v51.0h-2.95zM468.8 1115.4h2.95v38.8h-2.95zM471.4 1111.7h2.95v32.9h-2.95zM474.1 1132.6h2.95v42.5h-2.95zM476.7 1109.0h2.95v66.8h-2.95zM479.4 1133.6h2.95v35.8h-2.95zM482.0 1108.5h2.95v65.2h-2.95zM484.7 1126.2h2.95v45.9h-2.95zM487.3 1085.8h2.95v99.0h-2.95zM490.0 1106.3h2.95v66.7h-2.95zM492.6 1131.8h2.95v38.4h-2.95zM495.3 1139.6h2.95v58.1h-2.95zM497.9 1107.9h2.95v103.7h-2.95zM500.6 1139.7h2.95v42.7h-2.95zM503.2 1134.0h2.95v54.0h-2.95zM505.9 1138.7h2.95v42.6h-2.95zM508.5 1151.9h2.95v41.0h-2.95zM511.2 1146.2h2.95v38.1h-2.95zM513.8 1135.6h2.95v59.0h-2.95zM516.5 1126.4h2.95v83.6h-2.95zM519.1 1149.7h2.95v79.2h-2.95zM521.8 1117.7h2.95v55.4h-2.95zM524.4 1153.9h2.95v42.7h-2.95zM527.1 1157.1h2.95v53.0h-2.95zM529.7 1165.7h2.95v48.7h-2.95zM532.4 1152.9h2.95v50.8h-2.95zM535.0 1157.5h2.95v49.1h-2.95zM537.6 1152.8h2.95v41.8h-2.95zM540.3 1166.3h2.95v37.3h-2.95zM542.9 1167.6h2.95v56.1h-2.95zM545.6 1145.8h2.95v47.9h-2.95zM548.2 1172.6h2.95v53.2h-2.95zM550.9 1174.7h2.95v55.3h-2.95zM553.5 1186.6h2.95v61.3h-2.95zM556.2 1165.2h2.95v66.9h-2.95zM558.8 1175.8h2.95v40.5h-2.95zM561.5 1167.3h2.95v48.6h-2.95zM564.1 1171.5h2.95v65.5h-2.95zM566.8 1154.6h2.95v66.0h-2.95zM569.4 1163.2h2.95v67.6h-2.95zM572.1 1168.1h2.95v48.5h-2.95zM574.7 1144.1h2.95v98.9h-2.95zM577.4 1170.5h2.95v79.9h-2.95zM580.0 1179.0h2.95v57.3h-2.95zM582.7 1177.6h2.95v50.1h-2.95zM585.3 1197.4h2.95v32.6h-2.95zM588.0 1197.8h2.95v31.0h-2.95zM590.6 1189.0h2.95v42.1h-2.95zM593.3 1178.6h2.95v66.4h-2.95zM595.9 1180.9h2.95v30.1h-2.95zM598.6 1208.6h2.95v40.4h-2.95zM601.2 1176.3h2.95v75.3h-2.95zM603.9 1203.6h2.95v48.6h-2.95zM606.5 1189.5h2.95v70.3h-2.95zM609.2 1179.3h2.95v57.2h-2.95zM611.8 1198.7h2.95v33.8h-2.95zM614.5 1179.6h2.95v64.9h-2.95zM617.1 1201.1h2.95v27.5h-2.95zM619.8 1163.4h2.95v57.4h-2.95zM622.4 1151.5h2.95v77.8h-2.95zM625.1 1194.1h2.95v42.0h-2.95zM627.7 1210.5h2.95v26.4h-2.95zM630.3 1176.4h2.95v47.4h-2.95zM633.0 1166.2h2.95v48.3h-2.95zM635.6 1183.0h2.95v37.4h-2.95zM638.3 1130.7h2.95v81.0h-2.95zM640.9 1106.1h2.95v34.1h-2.95zM643.6 1078.4h2.95v72.2h-2.95zM646.2 1071.0h2.95v24.5h-2.95zM648.9 1077.5h2.95v43.3h-2.95zM651.5 1084.3h2.95v29.0h-2.95zM654.2 1092.8h2.95v51.8h-2.95zM656.8 1110.3h2.95v49.4h-2.95zM659.5 1142.0h2.95v59.3h-2.95zM662.1 1140.3h2.95v76.4h-2.95zM664.8 1173.8h2.95v48.4h-2.95zM667.4 1181.0h2.95v44.2h-2.95zM670.1 1203.6h2.95v46.0h-2.95zM672.7 1199.6h2.95v37.0h-2.95zM675.4 1183.9h2.95v74.8h-2.95zM678.0 1223.3h2.95v29.5h-2.95zM680.7 1205.3h2.95v63.7h-2.95zM683.3 1197.1h2.95v57.7h-2.95zM686.0 1208.3h2.95v64.8h-2.95zM688.6 1207.7h2.95v60.4h-2.95zM691.3 1223.3h2.95v63.0h-2.95zM693.9 1164.9h2.95v84.3h-2.95zM696.6 1211.4h2.95v72.2h-2.95zM699.2 1220.2h2.95v26.8h-2.95zM701.9 1205.0h2.95v80.1h-2.95zM704.5 1227.9h2.95v77.5h-2.95zM707.2 1224.8h2.95v42.2h-2.95zM709.8 1234.5h2.95v30.5h-2.95zM712.5 1222.7h2.95v60.4h-2.95zM715.1 1235.3h2.95v51.5h-2.95zM717.7 1237.2h2.95v49.8h-2.95zM720.4 1236.8h2.95v42.4h-2.95zM723.0 1241.9h2.95v25.3h-2.95zM725.7 1238.7h2.95v52.5h-2.95zM728.3 1242.8h2.95v30.4h-2.95zM731.0 1228.0h2.95v32.0h-2.95zM733.6 1217.1h2.95v90.3h-2.95zM736.3 1198.9h2.95v71.1h-2.95zM738.9 1207.1h2.95v60.7h-2.95zM741.6 1233.5h2.95v42.4h-2.95zM744.2 1228.5h2.95v47.5h-2.95zM746.9 1229.6h2.95v34.3h-2.95zM749.5 1223.3h2.95v49.7h-2.95zM752.2 1224.8h2.95v37.6h-2.95zM754.8 1200.6h2.95v47.8h-2.95zM757.5 1235.9h2.95v41.2h-2.95zM760.1 1241.9h2.95v33.0h-2.95zM762.8 1220.2h2.95v41.9h-2.95zM765.4 1214.3h2.95v63.3h-2.95zM768.1 1218.0h2.95v49.2h-2.95zM770.7 1222.3h2.95v55.9h-2.95zM773.4 1231.6h2.95v38.2h-2.95zM776.0 1221.1h2.95v49.9h-2.95zM778.7 1222.4h2.95v58.9h-2.95zM781.3 1210.8h2.95v48.9h-2.95zM784.0 1234.4h2.95v43.4h-2.95zM786.6 1249.5h2.95v26.5h-2.95zM789.3 1245.4h2.95v35.6h-2.95zM791.9 1256.2h2.95v23.6h-2.95zM794.6 1236.8h2.95v49.7h-2.95zM797.2 1231.0h2.95v48.2h-2.95zM799.9 1249.7h2.95v26.6h-2.95zM802.5 1257.0h2.95v42.0h-2.95zM805.2 1254.8h2.95v31.4h-2.95zM807.8 1276.9h2.95v14.4h-2.95zM810.4 1259.0h2.95v25.1h-2.95zM813.1 1257.3h2.95v25.1h-2.95zM815.7 1265.4h2.95v35.3h-2.95zM818.4 1254.1h2.95v50.2h-2.95zM821.0 1269.0h2.95v28.2h-2.95zM823.7 1268.3h2.95v46.3h-2.95zM826.3 1273.1h2.95v32.9h-2.95zM829.0 1277.4h2.95v36.2h-2.95zM831.6 1282.4h2.95v24.5h-2.95zM834.3 1293.4h2.95v32.3h-2.95zM836.9 1281.3h2.95v31.9h-2.95zM839.6 1294.3h2.95v13.9h-2.95zM842.2 1282.6h2.95v28.7h-2.95zM844.9 1287.9h2.95v19.9h-2.95zM847.5 1272.4h2.95v21.9h-2.95zM850.2 1287.5h2.95v24.5h-2.95zM852.8 1273.0h2.95v33.2h-2.95zM855.5 1274.9h2.95v17.4h-2.95zM858.1 1255.9h2.95v23.3h-2.95zM860.8 1233.4h2.95v36.2h-2.95zM863.4 1226.0h2.95v26.7h-2.95zM866.1 1214.8h2.95v30.0h-2.95zM868.7 1201.1h2.95v34.8h-2.95zM871.4 1201.0h2.95v22.1h-2.95zM874.0 1201.0h2.95v28.6h-2.95zM876.7 1220.4h2.95v34.9h-2.95zM879.3 1233.2h2.95v34.0h-2.95zM882.0 1239.5h2.95v39.5h-2.95zM884.6 1237.9h2.95v39.7h-2.95zM887.3 1266.0h2.95v17.5h-2.95zM889.9 1256.9h2.95v47.2h-2.95zM892.6 1272.8h2.95v37.4h-2.95zM895.2 1280.5h2.95v24.4h-2.95zM897.8 1297.9h2.95v28.4h-2.95zM900.5 1275.8h2.95v48.5h-2.95zM903.1 1291.9h2.95v27.1h-2.95zM905.8 1290.6h2.95v31.2h-2.95zM908.4 1282.9h2.95v48.8h-2.95zM911.1 1300.3h2.95v22.0h-2.95zM913.7 1290.7h2.95v23.3h-2.95zM916.4 1294.7h2.95v25.1h-2.95zM919.0 1294.5h2.95v30.7h-2.95zM921.7 1301.8h2.95v36.3h-2.95zM924.3 1289.2h2.95v32.0h-2.95zM927.0 1283.0h2.95v21.8h-2.95zM929.6 1279.5h2.95v20.0h-2.95zM932.3 1243.5h2.95v43.6h-2.95zM934.9 1239.9h2.95v22.7h-2.95zM937.6 1225.2h2.95v17.1h-2.95zM940.2 1221.0h2.95v36.9h-2.95zM942.9 1242.8h2.95v27.8h-2.95zM945.5 1260.3h2.95v34.0h-2.95zM948.2 1279.3h2.95v21.3h-2.95zM950.8 1292.1h2.95v16.3h-2.95zM953.5 1300.4h2.95v34.8h-2.95zM956.1 1302.9h2.95v24.7h-2.95zM958.8 1314.4h2.95v40.3h-2.95zM961.4 1319.3h2.95v20.8h-2.95zM964.1 1288.0h2.95v55.5h-2.95zM966.7 1304.1h2.95v27.8h-2.95zM969.4 1300.3h2.95v30.7h-2.95zM972.0 1317.6h2.95v21.7h-2.95zM974.7 1312.9h2.95v38.3h-2.95zM977.3 1315.8h2.95v16.9h-2.95zM980.0 1309.6h2.95v30.0h-2.95zM982.6 1310.0h2.95v31.1h-2.95zM985.2 1299.1h2.95v52.8h-2.95zM987.9 1294.9h2.95v42.7h-2.95zM990.5 1293.5h2.95v46.0h-2.95zM993.2 1316.7h2.95v29.0h-2.95zM995.8 1298.9h2.95v40.6h-2.95zM998.5 1304.7h2.95v34.4h-2.95zM1001.1 1306.6h2.95v27.7h-2.95zM1003.8 1303.5h2.95v33.9h-2.95zM1006.4 1289.8h2.95v35.6h-2.95zM1009.1 1301.0h2.95v37.3h-2.95zM1011.7 1296.3h2.95v37.5h-2.95zM1014.4 1296.3h2.95v30.5h-2.95zM1017.0 1291.5h2.95v25.9h-2.95zM1019.7 1269.4h2.95v33.0h-2.95zM1022.3 1238.6h2.95v36.2h-2.95zM1025.0 1200.9h2.95v47.4h-2.95zM1027.6 1174.0h2.95v36.0h-2.95zM1030.3 1160.4h2.95v42.2h-2.95zM1032.9 1158.8h2.95v25.8h-2.95zM1035.6 1154.1h2.95v47.9h-2.95zM1038.2 1184.8h2.95v31.3h-2.95zM1040.9 1213.8h2.95v42.1h-2.95zM1043.5 1246.9h2.95v45.8h-2.95zM1046.2 1273.7h2.95v19.4h-2.95zM1048.8 1272.7h2.95v37.0h-2.95zM1051.5 1297.4h2.95v30.7h-2.95zM1054.1 1295.8h2.95v32.8h-2.95zM1056.8 1298.6h2.95v25.1h-2.95zM1059.4 1307.0h2.95v26.1h-2.95zM1062.1 1318.2h2.95v18.0h-2.95zM1064.7 1307.0h2.95v16.4h-2.95zM1067.4 1305.2h2.95v31.4h-2.95zM1070.0 1302.0h2.95v22.0h-2.95zM1072.7 1310.6h2.95v13.8h-2.95zM1075.3 1308.7h2.95v21.1h-2.95zM1077.9 1308.5h2.95v31.9h-2.95zM1080.6 1292.4h2.95v53.6h-2.95zM1083.2 1303.2h2.95v24.1h-2.95zM1085.9 1301.3h2.95v24.9h-2.95zM1088.5 1297.6h2.95v35.0h-2.95zM1091.2 1304.7h2.95v22.0h-2.95zM1093.8 1305.8h2.95v34.2h-2.95zM1096.5 1305.8h2.95v19.9h-2.95zM1099.1 1285.4h2.95v44.8h-2.95zM1101.8 1277.0h2.95v34.7h-2.95zM1104.4 1279.0h2.95v24.9h-2.95zM1107.1 1277.0h2.95v22.1h-2.95zM1109.7 1284.5h2.95v29.4h-2.95zM1112.4 1277.0h2.95v30.9h-2.95zM1115.0 1287.7h2.95v45.0h-2.95zM1117.7 1313.1h2.95v31.9h-2.95zM1120.3 1297.8h2.95v31.9h-2.95zM1123.0 1284.0h2.95v59.3h-2.95zM1125.6 1309.8h2.95v41.7h-2.95zM1128.3 1287.5h2.95v63.3h-2.95zM1130.9 1314.4h2.95v39.1h-2.95zM1133.6 1327.0h2.95v39.1h-2.95zM1136.2 1332.4h2.95v22.7h-2.95zM1138.9 1322.8h2.95v38.4h-2.95zM1141.5 1314.9h2.95v36.5h-2.95zM1144.2 1319.6h2.95v19.6h-2.95zM1146.8 1307.6h2.95v57.4h-2.95zM1149.5 1328.6h2.95v20.0h-2.95zM1152.1 1333.2h2.95v19.5h-2.95zM1154.8 1329.1h2.95v34.2h-2.95zM1157.4 1345.1h2.95v34.5h-2.95zM1160.1 1341.5h2.95v25.1h-2.95zM1162.7 1326.8h2.95v32.9h-2.95zM1165.3 1330.8h2.95v33.0h-2.95zM1168.0 1336.5h2.95v25.0h-2.95zM1170.6 1330.7h2.95v28.6h-2.95zM1173.3 1342.3h2.95v23.6h-2.95zM1175.9 1339.4h2.95v37.0h-2.95zM1178.6 1338.5h2.95v16.5h-2.95zM1181.2 1346.3h2.95v22.7h-2.95zM1183.9 1331.3h2.95v29.9h-2.95zM1186.5 1332.4h2.95v43.3h-2.95zM1189.2 1331.4h2.95v33.4h-2.95zM1191.8 1330.5h2.95v51.4h-2.95zM1194.5 1333.5h2.95v28.9h-2.95zM1197.1 1334.6h2.95v23.9h-2.95zM1199.8 1329.0h2.95v26.2h-2.95zM1202.4 1342.5h2.95v38.7h-2.95zM1205.1 1356.1h2.95v15.7h-2.95zM1207.7 1339.4h2.95v28.5h-2.95zM1210.4 1340.9h2.95v30.3h-2.95zM1213.0 1329.8h2.95v26.1h-2.95zM1215.7 1350.1h2.95v32.8h-2.95zM1218.3 1344.8h2.95v33.1h-2.95zM1221.0 1336.7h2.95v41.5h-2.95zM1223.6 1331.6h2.95v46.1h-2.95zM1226.3 1337.7h2.95v21.2h-2.95zM1228.9 1342.2h2.95v28.2h-2.95zM1231.6 1344.5h2.95v34.0h-2.95zM1234.2 1341.4h2.95v31.5h-2.95zM1236.9 1341.1h2.95v31.1h-2.95zM1239.5 1331.0h2.95v30.0h-2.95zM1242.2 1342.7h2.95v48.0h-2.95zM1244.8 1331.5h2.95v33.4h-2.95zM1247.5 1348.7h2.95v26.5h-2.95zM1250.1 1349.2h2.95v24.0h-2.95zM1252.8 1350.4h2.95v21.0h-2.95zM1255.4 1348.7h2.95v24.6h-2.95zM1258.0 1342.6h2.95v39.7h-2.95zM1260.7 1338.3h2.95v30.9h-2.95zM1263.3 1340.2h2.95v37.2h-2.95zM1266.0 1331.5h2.95v36.2h-2.95zM1268.6 1338.3h2.95v32.1h-2.95zM1271.3 1344.8h2.95v13.2h-2.95zM1273.9 1340.0h2.95v23.4h-2.95zM1276.6 1356.8h2.95v14.4h-2.95zM1279.2 1360.1h2.95v15.7h-2.95zM1281.9 1340.8h2.95v37.5h-2.95zM1284.5 1347.4h2.95v27.7h-2.95zM1287.2 1345.8h2.95v48.8h-2.95zM1289.8 1330.0h2.95v53.3h-2.95zM1292.5 1343.2h2.95v31.1h-2.95zM1295.1 1350.6h2.95v16.4h-2.95zM1297.8 1342.2h2.95v33.4h-2.95zM1300.4 1347.2h2.95v17.9h-2.95zM1303.1 1341.4h2.95v38.9h-2.95zM1305.7 1346.7h2.95v35.5h-2.95zM1308.4 1345.8h2.95v20.1h-2.95zM1311.0 1340.7h2.95v30.6h-2.95zM1313.7 1346.0h2.95v34.9h-2.95zM1316.3 1351.6h2.95v14.3h-2.95zM1319.0 1330.1h2.95v32.1h-2.95zM1321.6 1352.6h2.95v19.6h-2.95zM1324.3 1350.9h2.95v16.8h-2.95zM1326.9 1345.3h2.95v21.8h-2.95zM1329.6 1354.5h2.95v29.2h-2.95zM1332.2 1360.5h2.95v6.5h-2.95zM1334.9 1350.5h2.95v16.2h-2.95zM1337.5 1341.7h2.95v31.8h-2.95zM1340.2 1340.4h2.95v21.8h-2.95zM1342.8 1336.6h2.95v41.7h-2.95zM1345.4 1344.0h2.95v17.4h-2.95zM1348.1 1339.3h2.95v28.8h-2.95zM1350.7 1343.0h2.95v19.0h-2.95zM1353.4 1319.5h2.95v48.7h-2.95zM1356.0 1327.6h2.95v31.3h-2.95zM1358.7 1354.3h2.95v13.1h-2.95zM1361.3 1333.0h2.95v30.9h-2.95zM1364.0 1318.6h2.95v37.3h-2.95zM1366.6 1317.8h2.95v40.1h-2.95zM1369.3 1321.7h2.95v34.4h-2.95zM1371.9 1324.5h2.95v26.1h-2.95zM1374.6 1326.8h2.95v27.5h-2.95zM1377.2 1326.7h2.95v22.6h-2.95zM1379.9 1319.1h2.95v45.8h-2.95zM1382.5 1309.7h2.95v21.3h-2.95zM1385.2 1301.8h2.95v29.5h-2.95zM1387.8 1284.8h2.95v42.3h-2.95zM1390.5 1285.4h2.95v25.0h-2.95zM1393.1 1272.0h2.95v43.1h-2.95zM1395.8 1275.6h2.95v37.5h-2.95zM1398.4 1282.9h2.95v18.6h-2.95zM1401.1 1291.6h2.95v21.2h-2.95zM1403.7 1293.1h2.95v23.4h-2.95zM1406.4 1313.1h2.95v16.6h-2.95zM1409.0 1303.4h2.95v33.8h-2.95zM1411.7 1312.6h2.95v26.0h-2.95zM1414.3 1318.3h2.95v21.3h-2.95zM1417.0 1336.1h2.95v16.1h-2.95zM1419.6 1321.8h2.95v34.3h-2.95zM1422.3 1341.7h2.95v10.6h-2.95zM1424.9 1334.7h2.95v21.5h-2.95zM1427.6 1330.6h2.95v42.8h-2.95zM1430.2 1317.7h2.95v50.1h-2.95zM1432.8 1333.7h2.95v41.8h-2.95zM1435.5 1348.7h2.95v14.6h-2.95zM1438.1 1330.8h2.95v57.0h-2.95zM1440.8 1339.8h2.95v28.0h-2.95zM1443.4 1345.0h2.95v28.9h-2.95zM1446.1 1345.8h2.95v25.8h-2.95zM1448.7 1346.9h2.95v22.4h-2.95zM1451.4 1343.9h2.95v17.9h-2.95zM1454.0 1339.2h2.95v24.7h-2.95zM1456.7 1325.0h2.95v33.8h-2.95zM1459.3 1339.8h2.95v18.4h-2.95zM1462.0 1330.4h2.95v39.5h-2.95zM1464.6 1345.9h2.95v20.6h-2.95zM1467.3 1334.1h2.95v43.7h-2.95zM1469.9 1336.3h2.95v34.2h-2.95zM1472.6 1335.3h2.95v35.5h-2.95zM1475.2 1338.6h2.95v35.3h-2.95zM1477.9 1345.5h2.95v22.5h-2.95zM1480.5 1346.5h2.95v24.7h-2.95zM1483.2 1331.8h2.95v38.1h-2.95zM1485.8 1345.5h2.95v42.1h-2.95zM1488.5 1352.2h2.95v23.1h-2.95zM1491.1 1356.2h2.95v16.4h-2.95zM1493.8 1347.1h2.95v23.4h-2.95zM1496.4 1351.6h2.95v26.9h-2.95zM1499.1 1340.0h2.95v32.1h-2.95zM1501.7 1352.4h2.95v24.6h-2.95zM1504.4 1357.1h2.95v34.7h-2.95zM1507.0 1350.7h2.95v31.3h-2.95zM1509.7 1350.7h2.95v31.7h-2.95zM1512.3 1354.8h2.95v27.7h-2.95zM1515.0 1362.7h2.95v21.6h-2.95zM1517.6 1358.0h2.95v31.5h-2.95zM1520.3 1348.0h2.95v32.8h-2.95zM1522.9 1354.5h2.95v31.6h-2.95zM1525.5 1345.0h2.95v41.0h-2.95zM1528.2 1354.3h2.95v37.4h-2.95zM1530.8 1356.6h2.95v26.4h-2.95zM1533.5 1354.1h2.95v21.1h-2.95zM1536.1 1358.4h2.95v23.9h-2.95zM1538.8 1355.0h2.95v22.2h-2.95zM1541.4 1357.1h2.95v21.6h-2.95zM1544.1 1359.3h2.95v35.1h-2.95zM1546.7 1342.7h2.95v34.8h-2.95zM1549.4 1359.4h2.95v13.4h-2.95zM1552.0 1364.6h2.95v18.2h-2.95zM1554.7 1352.7h2.95v17.3h-2.95zM1557.3 1364.7h2.95v35.5h-2.95zM1560.0 1364.6h2.95v27.6h-2.95zM1562.6 1365.6h2.95v21.7h-2.95zM1565.3 1355.9h2.95v29.2h-2.95zM1567.9 1356.2h2.95v25.6h-2.95zM1570.6 1368.5h2.95v16.3h-2.95zM1573.2 1362.7h2.95v33.6h-2.95zM1575.9 1364.7h2.95v18.0h-2.95zM1578.5 1372.1h2.95v14.1h-2.95zM1581.2 1360.4h2.95v24.3h-2.95zM1583.8 1359.8h2.95v27.4h-2.95zM1586.5 1367.7h2.95v21.8h-2.95zM1589.1 1358.5h2.95v37.9h-2.95zM1591.8 1364.6h2.95v31.0h-2.95zM1594.4 1355.5h2.95v22.3h-2.95zM1597.1 1350.2h2.95v29.6h-2.95zM1599.7 1341.8h2.95v40.6h-2.95zM1602.4 1354.2h2.95v21.3h-2.95zM1605.0 1348.1h2.95v25.3h-2.95zM1607.7 1351.8h2.95v26.4h-2.95zM1610.3 1358.2h2.95v21.6h-2.95zM1612.9 1349.7h2.95v37.9h-2.95zM1615.6 1356.3h2.95v21.2h-2.95zM1618.2 1354.1h2.95v27.7h-2.95zM1620.9 1359.3h2.95v23.3h-2.95zM1623.5 1345.6h2.95v43.2h-2.95zM1626.2 1363.4h2.95v24.0h-2.95zM1628.8 1340.7h2.95v44.6h-2.95zM1631.5 1345.8h2.95v24.5h-2.95zM1634.1 1351.6h2.95v35.5h-2.95zM1636.8 1346.6h2.95v17.1h-2.95zM1639.4 1346.7h2.95v22.1h-2.95zM1642.1 1342.1h2.95v44.1h-2.95zM1644.7 1341.7h2.95v42.2h-2.95zM1647.4 1350.1h2.95v20.5h-2.95zM1650.0 1347.9h2.95v24.2h-2.95zM1652.7 1356.2h2.95v24.3h-2.95zM1655.3 1354.1h2.95v29.3h-2.95zM1658.0 1352.9h2.95v21.3h-2.95zM1660.6 1356.6h2.95v27.3h-2.95zM1663.3 1345.7h2.95v33.0h-2.95zM1665.9 1353.6h2.95v20.6h-2.95zM1668.6 1362.7h2.95v18.4h-2.95zM1671.2 1346.6h2.95v44.2h-2.95zM1673.9 1353.9h2.95v26.2h-2.95zM1676.5 1357.8h2.95v15.6h-2.95zM1679.2 1354.9h2.95v23.0h-2.95zM1681.8 1362.4h2.95v28.4h-2.95zM1684.5 1363.5h2.95v15.6h-2.95zM1687.1 1361.0h2.95v18.5h-2.95zM1689.8 1359.2h2.95v18.4h-2.95zM1692.4 1352.4h2.95v36.4h-2.95zM1695.1 1358.6h2.95v18.8h-2.95zM1697.7 1356.2h2.95v34.9h-2.95zM1700.4 1358.0h2.95v30.7h-2.95zM1703.0 1369.0h2.95v20.6h-2.95zM1705.6 1354.9h2.95v25.5h-2.95zM1708.3 1356.1h2.95v33.4h-2.95zM1710.9 1356.3h2.95v26.7h-2.95zM1713.6 1360.9h2.95v27.6h-2.95zM1716.2 1360.3h2.95v20.7h-2.95zM1718.9 1374.6h2.95v17.3h-2.95zM1721.5 1369.6h2.95v25.2h-2.95zM1724.2 1373.5h2.95v12.7h-2.95zM1726.8 1356.5h2.95v35.8h-2.95zM1729.5 1370.5h2.95v13.1h-2.95zM1732.1 1365.1h2.95v28.5h-2.95zM1734.8 1374.2h2.95v21.4h-2.95zM1737.4 1362.8h2.95v33.0h-2.95zM1740.1 1375.9h2.95v34.8h-2.95zM1742.7 1382.2h2.95v14.7h-2.95zM1745.4 1363.6h2.95v35.1h-2.95zM1748.0 1371.5h2.95v29.5h-2.95zM1750.7 1375.1h2.95v18.9h-2.95zM1753.3 1376.0h2.95v26.9h-2.95zM1756.0 1364.8h2.95v29.5h-2.95zM1758.6 1362.0h2.95v31.9h-2.95zM1761.3 1365.5h2.95v28.6h-2.95zM1763.9 1365.7h2.95v34.6h-2.95zM1766.6 1355.1h2.95v45.3h-2.95zM1769.2 1361.1h2.95v38.2h-2.95zM1771.9 1364.3h2.95v13.3h-2.95zM1774.5 1361.3h2.95v10.5h-2.95zM1777.2 1369.4h2.95v26.4h-2.95zM1779.8 1361.4h2.95v24.2h-2.95zM1782.5 1367.0h2.95v17.5h-2.95zM1785.1 1352.4h2.95v27.9h-2.95zM1787.8 1356.8h2.95v24.8h-2.95zM1790.4 1355.7h2.95v18.3h-2.95zM1793.0 1341.1h2.95v38.6h-2.95zM1795.7 1361.0h2.95v26.6h-2.95zM1798.3 1374.5h2.95v27.9h-2.95zM1801.0 1359.1h2.95v22.5h-2.95zM1803.6 1358.4h2.95v17.5h-2.95zM1806.3 1358.5h2.95v32.4h-2.95zM1808.9 1368.9h2.95v27.2h-2.95zM1811.6 1368.6h2.95v20.1h-2.95zM1814.2 1351.4h2.95v44.0h-2.95zM1816.9 1364.3h2.95v14.6h-2.95zM1819.5 1365.2h2.95v24.5h-2.95zM1822.2 1362.9h2.95v21.6h-2.95zM1824.8 1354.9h2.95v35.3h-2.95zM1827.5 1365.7h2.95v20.7h-2.95zM1830.1 1372.3h2.95v24.4h-2.95zM1832.8 1373.2h2.95v16.2h-2.95zM1835.4 1362.3h2.95v32.7h-2.95zM1838.1 1372.7h2.95v18.8h-2.95zM1840.7 1364.9h2.95v24.7h-2.95zM1843.4 1372.5h2.95v21.5h-2.95zM1846.0 1365.1h2.95v29.4h-2.95zM1848.7 1378.4h2.95v27.8h-2.95zM1851.3 1360.6h2.95v36.0h-2.95zM1854.0 1367.1h2.95v31.6h-2.95zM1856.6 1377.5h2.95v19.4h-2.95zM1859.3 1378.7h2.95v19.5h-2.95zM1861.9 1366.5h2.95v31.5h-2.95zM1864.6 1376.9h2.95v25.7h-2.95zM1867.2 1387.9h2.95v14.5h-2.95zM1869.9 1385.2h2.95v21.4h-2.95zM1872.5 1371.0h2.95v22.0h-2.95zM1875.2 1379.9h2.95v29.2h-2.95zM1877.8 1375.0h2.95v27.9h-2.95zM1880.4 1380.4h2.95v14.5h-2.95zM1883.1 1362.7h2.95v37.0h-2.95zM1885.7 1376.3h2.95v29.0h-2.95zM1888.4 1381.5h2.95v11.3h-2.95zM1891.0 1370.8h2.95v22.7h-2.95zM1893.7 1365.5h2.95v36.5h-2.95zM1896.3 1382.6h2.95v18.6h-2.95zM1899.0 1375.4h2.95v17.8h-2.95zM1901.6 1372.6h2.95v23.9h-2.95zM1904.3 1382.7h2.95v20.9h-2.95zM1906.9 1375.0h2.95v28.5h-2.95zM1909.6 1377.5h2.95v29.1h-2.95zM1912.2 1381.4h2.95v22.6h-2.95zM1914.9 1384.4h2.95v16.6h-2.95zM1917.5 1383.8h2.95v12.8h-2.95zM1920.2 1382.8h2.95v27.7h-2.95zM1922.8 1384.3h2.95v27.8h-2.95zM1925.5 1379.8h2.95v22.8h-2.95zM1928.1 1387.7h2.95v16.9h-2.95zM1930.8 1390.2h2.95v15.1h-2.95zM1933.4 1388.4h2.95v19.6h-2.95zM1936.1 1381.8h2.95v17.9h-2.95zM1938.7 1392.8h2.95v25.3h-2.95zM1941.4 1382.4h2.95v29.0h-2.95zM1944.0 1377.2h2.95v28.0h-2.95zM1946.7 1387.9h2.95v16.8h-2.95zM1949.3 1389.8h2.95v15.3h-2.95zM1952.0 1388.5h2.95v10.9h-2.95zM1954.6 1387.1h2.95v20.7h-2.95zM1957.3 1388.6h2.95v16.5h-2.95zM1959.9 1392.5h2.95v11.8h-2.95zM1962.6 1383.1h2.95v18.5h-2.95zM1965.2 1391.1h2.95v15.3h-2.95zM1967.9 1388.2h2.95v19.3h-2.95zM1970.5 1384.1h2.95v20.5h-2.95zM1973.1 1389.5h2.95v15.6h-2.95zM1975.8 1393.6h2.95v17.2h-2.95zM1978.4 1392.3h2.95v15.7h-2.95zM1981.1 1394.0h2.95v17.1h-2.95zM1983.7 1393.0h2.95v15.9h-2.95zM1986.4 1388.8h2.95v27.0h-2.95zM1989.0 1393.4h2.95v11.2h-2.95zM1991.7 1391.7h2.95v17.5h-2.95zM1994.3 1384.3h2.95v19.8h-2.95zM1997.0 1386.0h2.95v15.7h-2.95zM1999.6 1388.9h2.95v17.6h-2.95zM2002.3 1390.3h2.95v11.9h-2.95zM2004.9 1387.9h2.95v18.1h-2.95zM2007.6 1388.2h2.95v22.6h-2.95zM2010.2 1392.9h2.95v9.2h-2.95zM2012.9 1382.0h2.95v28.4h-2.95zM2015.5 1392.8h2.95v15.0h-2.95zM2018.2 1395.0h2.95v9.2h-2.95zM2020.8 1385.0h2.95v24.6h-2.95zM2023.5 1382.5h2.95v24.6h-2.95zM2026.1 1387.0h2.95v23.6h-2.95zM2028.8 1389.3h2.95v16.6h-2.95zM2031.4 1388.7h2.95v23.3h-2.95zM2034.1 1392.4h2.95v17.9h-2.95zM2036.7 1386.4h2.95v15.1h-2.95zM2039.4 1392.1h2.95v16.1h-2.95zM2042.0 1388.3h2.95v16.5h-2.95zM2044.7 1398.9h2.95v10.2h-2.95zM2047.3 1389.4h2.95v14.8h-2.95zM2050.0 1385.8h2.95v11.9h-2.95zM2052.6 1392.5h2.95v17.3h-2.95zM2055.3 1385.4h2.95v21.9h-2.95zM2057.9 1384.0h2.95v17.9h-2.95zM2060.5 1386.8h2.95v23.5h-2.95zM2063.2 1385.9h2.95v17.0h-2.95zM2065.8 1393.0h2.95v12.9h-2.95zM2068.5 1387.3h2.95v15.4h-2.95zM2071.1 1387.3h2.95v13.0h-2.95zM2073.8 1390.7h2.95v16.0h-2.95zM2076.4 1390.4h2.95v22.7h-2.95zM2079.1 1391.5h2.95v12.3h-2.95zM2081.7 1391.1h2.95v17.0h-2.95zM2084.4 1392.3h2.95v11.7h-2.95zM2087.0 1385.1h2.95v16.7h-2.95zM2089.7 1392.3h2.95v13.4h-2.95zM2092.3 1390.2h2.95v26.5h-2.95zM2095.0 1394.6h2.95v13.4h-2.95zM2097.6 1386.5h2.95v26.8h-2.95zM2100.3 1387.2h2.95v24.9h-2.95zM2102.9 1380.1h2.95v29.6h-2.95zM2105.6 1383.3h2.95v24.9h-2.95zM2108.2 1381.7h2.95v24.8h-2.95zM2110.9 1378.4h2.95v29.7h-2.95zM2113.5 1387.8h2.95v17.7h-2.95zM2116.2 1390.0h2.95v19.7h-2.95zM2118.8 1376.0h2.95v39.6h-2.95zM2121.5 1388.1h2.95v16.2h-2.95zM2124.1 1390.8h2.95v12.0h-2.95zM2126.8 1387.4h2.95v18.1h-2.95zM2129.4 1391.6h2.95v17.7h-2.95zM2132.1 1389.8h2.95v16.4h-2.95zM2134.7 1391.6h2.95v18.9h-2.95zM2137.4 1385.3h2.95v25.1h-2.95zM2140.0 1380.7h2.95v31.6h-2.95zM2142.7 1391.4h2.95v11.7h-2.95zM2145.3 1389.0h2.95v25.0h-2.95zM2148.0 1378.2h2.95v31.5h-2.95zM2150.6 1387.9h2.95v29.5h-2.95zM2153.2 1391.1h2.95v20.0h-2.95zM2155.9 1384.8h2.95v28.2h-2.95zM2158.5 1386.4h2.95v21.1h-2.95zM2161.2 1391.6h2.95v19.4h-2.95zM2163.8 1397.1h2.95v9.3h-2.95zM2166.5 1396.4h2.51v11.2h-2.51z"/>
<path fill="#0000ff" d="M168.8 881.6h1.01v19.1h-1.01zM169.5 836.4h2.95v101.3h-2.95zM172.2 879.3h2.95v38.5h-2.95zM174.8 872.7h2.95v31.9h-2.95zM177.5 868.5h2.95v37.7h-2.95zM180.1 864.0h2.95v48.5h-2.95zM182.7 844.8h2.95v95.3h-2.95zM185.4 878.3h2.95v35.7h-2.95zM188.0 854.2h2.95v52.0h-2.95zM190.7 852.0h2.95v74.5h-2.95zM193.3 857.9h2.95v51.3h-2.95zM196.0 828.5h2.95v73.6h-2.95zM198.6 867.9h2.95v52.5h-2.95zM201.3 838.4h2.95v56.4h-2.95zM203.9 787.1h2.95v70.9h-2.95zM206.6 775.0h2.95v76.2h-2.95zM209.2 743.7h2.95v82.3h-2.95zM211.9 700.3h2.95v90.1h-2.95zM214.5 650.9h2.95v63.3h-2.95zM217.2 598.6h2.95v56.8h-2.95zM219.8 587.8h2.95v61.0h-2.95zM222.5 610.1h2.95v15.0h-2.95zM225.1 618.0h2.95v87.9h-2.95zM227.8 703.5h2.95v61.6h-2.95zM230.4 706.7h2.95v51.5h-2.95zM233.1 707.7h2.95v92.1h-2.95zM235.7 750.6h2.95v40.5h-2.95zM238.4 754.8h2.95v33.6h-2.95zM241.0 739.9h2.95v51.4h-2.95zM243.7 749.4h2.95v48.4h-2.95zM246.3 743.7h2.95v68.4h-2.95zM249.0 728.3h2.95v49.9h-2.95zM251.6 742.1h2.95v58.6h-2.95zM254.3 730.9h2.95v41.7h-2.95zM256.9 747.1h2.95v33.3h-2.95zM259.6 718.5h2.95v43.6h-2.95zM262.2 749.8h2.95v39.7h-2.95zM264.9 746.5h2.95v32.9h-2.95zM267.5 727.9h2.95v67.3h-2.95zM270.1 743.6h2.95v54.7h-2.95zM272.8 759.7h2.95v44.2h-2.95zM275.4 718.3h2.95v61.5h-2.95zM278.1 733.0h2.95v60.0h-2.95zM280.7 693.3h2.95v78.7h-2.95zM283.4 701.4h2.95v47.0h-2.95zM286.0 683.0h2.95v53.1h-2.95zM288.7 699.2h2.95v25.3h-2.95zM291.3 691.9h2.95v62.9h-2.95zM294.0 708.4h2.95v77.3h-2.95zM296.6 735.3h2.95v73.2h-2.95zM299.3 773.8h2.95v91.2h-2.95zM301.9 768.8h2.95v66.7h-2.95zM304.6 798.4h2.95v56.4h-2.95zM307.2 805.8h2.95v64.0h-2.95zM309.9 824.9h2.95v51.0h-2.95zM312.5 825.2h2.95v86.1h-2.95zM315.2 821.1h2.95v76.9h-2.95zM317.8 825.2h2.95v49.7h-2.95zM320.5 823.2h2.95v37.8h-2.95zM323.1 858.6h2.95v64.0h-2.95zM325.8 853.2h2.95v77.7h-2.95zM328.4 821.1h2.95v99.9h-2.95zM331.1 848.2h2.95v83.4h-2.95zM333.7 916.5h2.95v82.2h-2.95zM336.4 896.6h2.95v59.7h-2.95zM339.0 946.9h2.95v57.5h-2.95zM341.7 954.7h2.95v56.2h-2.95zM344.3 942.5h2.95v65.9h-2.95zM347.0 922.8h2.95v58.6h-2.95zM349.6 923.6h2.95v102.2h-2.95zM352.3 938.5h2.95v60.2h-2.95zM354.9 920.5h2.95v64.6h-2.95zM357.6 936.2h2.95v50.2h-2.95zM360.2 937.7h2.95v75.6h-2.95zM362.8 921.9h2.95v70.5h-2.95zM365.5 968.2h2.95v33.4h-2.95zM368.1 922.4h2.95v70.9h-2.95zM370.8 920.2h2.95v69.8h-2.95zM373.4 932.4h2.95v20.3h-2.95zM376.1 885.6h2.95v93.3h-2.95zM378.7 882.8h2.95v71.1h-2.95zM381.4 893.0h2.95v80.5h-2.95zM384.0 906.3h2.95v47.6h-2.95zM386.7 902.4h2.95v79.8h-2.95zM389.3 915.8h2.95v45.8h-2.95zM392.0 891.0h2.95v85.8h-2.95zM394.6 887.3h2.95v73.2h-2.95zM397.3 895.5h2.95v78.0h-2.95zM399.9 853.3h2.95v77.0h-2.95zM402.6 893.7h2.95v44.1h-2.95zM405.2 883.3h2.95v71.5h-2.95zM407.9 885.2h2.95v42.2h-2.95zM410.5 892.0h2.95v56.1h-2.95zM413.2 906.3h2.95v89.6h-2.95zM415.8 895.7h2.95v60.0h-2.95zM418.5 905.5h2.95v84.4h-2.95zM421.1 875.6h2.95v34.7h-2.95zM423.8 892.6h2.95v66.9h-2.95zM426.4 881.7h2.95v40.1h-2.95zM429.1 897.1h2.95v45.5h-2.95zM431.7 904.2h2.95v32.2h-2.95zM434.4 897.9h2.95v67.1h-2.95zM437.0 914.2h2.95v86.5h-2.95zM439.7 914.6h2.95v39.1h-2.95zM442.3 934.6h2.95v27.3h-2.95zM445.0 914.1h2.95v38.2h-2.95zM447.6 915.5h2.95v44.2h-2.95zM450.2 894.8h2.95v64.3h-2.95zM452.9 909.2h2.95v53.2h-2.95zM455.5 942.4h2.95v40.9h-2.95zM458.2 933.6h2.95v33.1h-2.95zM460.8 935.8h2.95v63.4h-2.95zM463.5 928.7h2.95v59.7h-2.95zM466.1 931.9h2.95v55.9h-2.95zM468.8 941.9h2.95v26.4h-2.95zM471.4 929.0h2.95v67.1h-2.95zM474.1 959.8h2.95v32.5h-2.95zM476.7 949.2h2.95v24.4h-2.95zM479.4 924.2h2.95v46.4h-2.95zM482.0 938.9h2.95v70.3h-2.95zM484.7 954.8h2.95v24.8h-2.95zM487.3 932.2h2.95v33.5h-2.95zM490.0 963.3h2.95v34.7h-2.95zM492.6 977.7h2.95v33.5h-2.95zM495.3 949.4h2.95v64.5h-2.95zM497.9 963.3h2.95v25.8h-2.95zM500.6 975.3h2.95v28.0h-2.95zM503.2 968.6h2.95v58.4h-2.95zM505.9 969.5h2.95v64.7h-2.95zM508.5 970.3h2.95v69.7h-2.95zM511.2 991.9h2.95v73.7h-2.95zM513.8 992.3h2.95v31.0h-2.95zM516.5 987.8h2.95v64.2h-2.95zM519.1 996.8h2.95v37.1h-2.95zM521.8 990.5h2.95v69.9h-2.95zM524.4 1002.2h2.95v76.2h-2.95zM527.1 1006.3h2.95v50.1h-2.95zM529.7 1000.4h2.95v29.5h-2.95zM532.4 1006.9h2.95v36.9h-2.95zM535.0 1014.5h2.95v33.8h-2.95zM537.6 1024.8h2.95v10.3h-2.95zM540.3 1014.3h2.95v23.4h-2.95zM542.9 1014.0h2.95v22.2h-2.95zM545.6 1009.4h2.95v45.0h-2.95zM548.2 1007.6h2.95v50.5h-2.95zM550.9 1003.7h2.95v41.8h-2.95zM553.5 1025.8h2.95v38.3h-2.95zM556.2 1016.7h2.95v46.5h-2.95zM558.8 1028.4h2.95v55.0h-2.95zM561.5 1042.9h2.95v17.2h-2.95zM564.1 1023.9h2.95v29.4h-2.95zM566.8 1040.4h2.95v41.1h-2.95zM569.4 1009.9h2.95v55.3h-2.95zM572.1 1045.7h2.95v37.8h-2.95zM574.7 1055.9h2.95v19.4h-2.95zM577.4 1048.2h2.95v31.7h-2.95zM580.0 1024.7h2.95v90.1h-2.95zM582.7 1039.2h2.95v28.9h-2.95zM585.3 1021.6h2.95v43.7h-2.95zM588.0 1039.9h2.95v49.0h-2.95zM590.6 1025.5h2.95v61.6h-2.95zM593.3 1054.1h2.95v43.1h-2.95zM595.9 1057.6h2.95v50.0h-2.95zM598.6 1057.4h2.95v36.0h-2.95zM601.2 1052.8h2.95v45.9h-2.95zM603.9 1024.8h2.95v68.4h-2.95zM606.5 1067.4h2.95v47.4h-2.95zM609.2 1048.5h2.95v47.2h-2.95zM611.8 1043.4h2.95v46.2h-2.95zM614.5 1029.8h2.95v59.2h-2.95zM617.1 1048.3h2.95v46.5h-2.95zM619.8 1030.0h2.95v51.8h-2.95zM622.4 1039.5h2.95v36.6h-2.95zM625.1 1059.4h2.95v35.1h-2.95zM627.7 1030.0h2.95v54.8h-2.95zM630.3 1052.3h2.95v25.4h-2.95zM633.0 1052.1h2.95v19.9h-2.95zM635.6 1039.7h2.95v30.9h-2.95zM638.3 1013.1h2.95v43.5h-2.95zM640.9 1024.2h2.95v61.7h-2.95zM643.6 1002.2h2.95v40.1h-2.95zM646.2 972.6h2.95v48.6h-2.95zM648.9 952.5h2.95v41.3h-2.95zM651.5 911.4h2.95v43.5h-2.95zM654.2 904.3h2.95v42.7h-2.95zM656.8 905.6h2.95v40.1h-2.95zM659.5 923.3h2.95v38.8h-2.95zM662.1 922.1h2.95v54.0h-2.95zM664.8 970.7h2.95v27.8h-2.95zM667.4 988.9h2.95v75.8h-2.95zM670.1 1032.8h2.95v28.7h-2.95zM672.7 1019.5h2.95v26.7h-2.95zM675.4 1031.7h2.95v46.7h-2.95zM678.0 1028.4h2.95v38.2h-2.95zM680.7 1026.4h2.95v39.8h-2.95zM683.3 1063.9h2.95v30.2h-2.95zM686.0 1062.4h2.95v40.4h-2.95zM688.6 1044.2h2.95v75.1h-2.95zM691.3 1052.0h2.95v44.4h-2.95zM693.9 1058.1h2.95v25.9h-2.95zM696.6 1056.0h2.95v22.6h-2.95zM699.2 1054.0h2.95v65.0h-2.95zM701.9 1018.9h2.95v77.2h-2.95zM704.5 1035.6h2.95v72.2h-2.95zM707.2 1051.9h2.95v55.0h-2.95zM709.8 1062.9h2.95v63.5h-2.95zM712.5 1054.4h2.95v61.5h-2.95zM715.1 1064.5h2.95v47.2h-2.95zM717.7 1069.7h2.95v50.8h-2.95zM720.4 1065.4h2.95v57.0h-2.95zM723.0 1082.0h2.95v65.8h-2.95zM725.7 1082.6h2.95v29.9h-2.95zM728.3 1066.8h2.95v34.5h-2.95zM731.0 1071.0h2.95v31.7h-2.95zM733.6 1061.5h2.95v51.3h-2.95zM736.3 1046.5h2.95v51.1h-2.95zM738.9 1030.6h2.95v57.9h-2.95zM741.6 1052.4h2.95v49.3h-2.95zM744.2 1056.0h2.95v11.8h-2.95zM746.9 1037.0h2.95v22.3h-2.95zM749.5 1042.3h2.95v33.9h-2.95zM752.2 1024.5h2.95v49.5h-2.95zM754.8 1040.1h2.95v33.3h-2.95zM757.5 1024.9h2.95v55.4h-2.95zM760.1 1029.5h2.95v41.8h-2.95zM762.8 1053.1h2.95v29.5h-2.95zM765.4 1055.2h2.95v27.1h-2.95zM768.1 1061.8h2.95v39.6h-2.95zM770.7 1044.3h2.95v33.1h-2.95zM773.4 1053.8h2.95v22.7h-2.95zM776.0 1058.6h2.95v28.6h-2.95zM778.7 1069.4h2.95v33.4h-2.95zM781.3 1068.4h2.95v27.2h-2.95zM784.0 1077.4h2.95v23.7h-2.95zM786.6 1091.2h2.95v12.1h-2.95zM789.3 1075.3h2.95v52.7h-2.95zM791.9 1087.2h2.95v37.1h-2.95zM794.6 1087.0h2.95v43.6h-2.95zM797.2 1091.3h2.95v28.6h-2.95zM799.9 1098.8h2.95v39.0h-2.95zM802.5 1079.7h2.95v50.9h-2.95zM805.2 1094.6h2.95v41.1h-2.95zM807.8 1094.5h2.95v33.3h-2.95zM810.4 1100.5h2.95v36.6h-2.95zM813.1 1107.7h2.95v20.8h-2.95zM815.7 1101.5h2.95v36.8h-2.95zM818.4 1104.0h2.95v53.4h-2.95zM821.0 1120.2h2.95v39.1h-2.95zM823.7 1118.8h2.95v21.9h-2.95zM826.3 1108.2h2.95v26.1h-2.95zM829.0 1120.9h2.95v22.2h-2.95zM831.6 1101.1h2.95v44.7h-2.95zM834.3 1118.5h2.95v29.1h-2.95zM836.9 1103.9h2.95v55.3h-2.95zM839.6 1105.9h2.95v33.2h-2.95zM842.2 1115.8h2.95v33.0h-2.95zM844.9 1110.3h2.95v32.4h-2.95zM847.5 1114.5h2.95v36.6h-2.95zM850.2 1118.1h2.95v38.4h-2.95zM852.8 1121.7h2.95v31.3h-2.95zM855.5 1133.3h2.95v24.5h-2.95zM858.1 1131.4h2.95v34.2h-2.95zM860.8 1113.5h2.95v27.6h-2.95zM863.4 1082.5h2.95v50.4h-2.95zM866.1 1044.0h2.95v46.8h-2.95zM868.7 1004.0h2.95v42.4h-2.95zM871.4 1010.5h2.95v44.0h-2.95zM874.0 1052.1h2.95v58.4h-2.95zM876.7 1089.3h2.95v37.5h-2.95zM879.3 1104.3h2.95v33.9h-2.95zM882.0 1112.3h2.95v52.8h-2.95zM884.6 1119.6h2.95v35.8h-2.95zM887.3 1096.2h2.95v59.8h-2.95zM889.9 1140.4h2.95v26.3h-2.95zM892.6 1117.5h2.95v36.2h-2.95zM895.2 1124.0h2.95v33.7h-2.95zM897.8 1112.9h2.95v45.0h-2.95zM900.5 1146.8h2.95v15.3h-2.95zM903.1 1116.8h2.95v46.7h-2.95zM905.8 1144.8h2.95v12.8h-2.95zM908.4 1129.9h2.95v31.5h-2.95zM911.1 1123.5h2.95v43.0h-2.95zM913.7 1126.9h2.95v37.9h-2.95zM916.4 1120.1h2.95v47.6h-2.95zM919.0 1136.9h2.95v24.0h-2.95zM921.7 1122.4h2.95v57.2h-2.95zM924.3 1112.0h2.95v60.7h-2.95zM927.0 1122.6h2.95v25.3h-2.95zM929.6 1122.8h2.95v19.9h-2.95zM932.3 1080.7h2.95v50.0h-2.95zM934.9 1086.2h2.95v17.6h-2.95zM937.6 1074.1h2.95v58.1h-2.95zM940.2 1111.7h2.95v37.0h-2.95zM942.9 1133.8h2.95v27.5h-2.95zM945.5 1125.0h2.95v48.0h-2.95zM948.2 1154.0h2.95v30.0h-2.95zM950.8 1142.2h2.95v29.1h-2.95zM953.5 1146.6h2.95v34.3h-2.95zM956.1 1149.5h2.95v21.3h-2.95zM958.8 1144.5h2.95v40.9h-2.95zM961.4 1148.6h2.95v32.8h-2.95zM964.1 1152.6h2.95v17.2h-2.95zM966.7 1146.4h2.95v31.1h-2.95zM969.4 1141.6h2.95v48.2h-2.95zM972.0 1126.2h2.95v46.6h-2.95zM974.7 1142.6h2.95v35.3h-2.95zM977.3 1131.8h2.95v49.9h-2.95zM980.0 1136.8h2.95v44.3h-2.95zM982.6 1145.3h2.95v46.3h-2.95zM985.2 1132.5h2.95v59.6h-2.95zM987.9 1142.4h2.95v31.4h-2.95zM990.5 1153.8h2.95v35.1h-2.95zM993.2 1146.5h2.95v34.0h-2.95zM995.8 1139.7h2.95v39.8h-2.95zM998.5 1130.1h2.95v45.7h-2.95zM1001.1 1153.8h2.95v30.2h-2.95zM1003.8 1135.9h2.95v42.8h-2.95zM1006.4 1150.6h2.95v16.4h-2.95zM1009.1 1138.4h2.95v16.2h-2.95zM1011.7 1137.1h2.95v21.8h-2.95zM1014.4 1125.0h2.95v41.2h-2.95zM1017.0 1120.5h2.95v22.3h-2.95zM1019.7 1092.1h2.95v30.8h-2.95zM1022.3 1055.8h2.95v47.6h-2.95zM1025.0 1033.2h2.95v36.8h-2.95zM1027.6 977.5h2.95v69.3h-2.95zM1030.3 979.0h2.95v25.7h-2.95zM1032.9 968.3h2.95v15.4h-2.95zM1035.6 960.8h2.95v101.1h-2.95zM1038.2 1031.8h2.95v44.1h-2.95zM1040.9 1073.5h2.95v34.7h-2.95zM1043.5 1102.1h2.95v43.0h-2.95zM1046.2 1123.7h2.95v40.9h-2.95zM1048.8 1119.3h2.95v44.5h-2.95zM1051.5 1148.7h2.95v20.0h-2.95zM1054.1 1151.0h2.95v19.7h-2.95zM1056.8 1136.6h2.95v35.8h-2.95zM1059.4 1148.5h2.95v33.4h-2.95zM1062.1 1150.8h2.95v34.7h-2.95zM1064.7 1151.1h2.95v37.0h-2.95zM1067.4 1152.3h2.95v27.2h-2.95zM1070.0 1144.2h2.95v38.9h-2.95zM1072.7 1148.0h2.95v39.2h-2.95zM1075.3 1142.4h2.95v31.0h-2.95zM1077.9 1148.0h2.95v23.1h-2.95zM1080.6 1154.6h2.95v14.8h-2.95zM1083.2 1158.5h2.95v8.3h-2.95zM1085.9 1148.1h2.95v29.9h-2.95zM1088.5 1144.1h2.95v34.6h-2.95zM1091.2 1140.0h2.95v32.7h-2.95zM1093.8 1148.7h2.95v24.7h-2.95zM1096.5 1152.0h2.95v33.9h-2.95zM1099.1 1151.8h2.95v21.0h-2.95zM1101.8 1127.8h2.95v42.5h-2.95zM1104.4 1132.4h2.95v24.2h-2.95zM1107.1 1125.9h2.95v31.4h-2.95zM1109.7 1120.0h2.95v33.1h-2.95zM1112.4 1124.6h2.95v15.6h-2.95zM1115.0 1126.5h2.95v20.9h-2.95zM1117.7 1128.9h2.95v28.8h-2.95zM1120.3 1127.5h2.95v27.3h-2.95zM1123.0 1142.7h2.95v21.1h-2.95zM1125.6 1131.9h2.95v36.1h-2.95zM1128.3 1131.1h2.95v48.6h-2.95zM1130.9 1142.3h2.95v35.2h-2.95zM1133.6 1152.1h2.95v37.7h-2.95zM1136.2 1165.2h2.95v12.5h-2.95zM1138.9 1154.4h2.95v22.1h-2.95zM1141.5 1139.4h2.95v46.4h-2.95zM1144.2 1158.9h2.95v31.7h-2.95zM1146.8 1157.2h2.95v28.5h-2.95zM1149.5 1151.2h2.95v45.0h-2.95zM1152.1 1166.9h2.95v25.2h-2.95zM1154.8 1164.4h2.95v29.1h-2.95zM1157.4 1145.5h2.95v50.1h-2.95zM1160.1 1152.3h2.95v50.3h-2.95zM1162.7 1158.2h2.95v34.4h-2.95zM1165.3 1166.0h2.95v59.3h-2.95zM1168.0 1164.5h2.95v37.0h-2.95zM1170.6 1168.9h2.95v24.7h-2.95zM1173.3 1179.5h2.95v22.6h-2.95zM1175.9 1175.2h2.95v24.9h-2.95zM1178.6 1176.3h2.95v21.5h-2.95zM1181.2 1169.1h2.95v41.1h-2.95zM1183.9 1169.3h2.95v31.4h-2.95zM1186.5 1184.5h2.95v25.0h-2.95zM1189.2 1179.6h2.95v42.5h-2.95zM1191.8 1167.2h2.95v42.2h-2.95zM1194.5 1178.4h2.95v23.5h-2.95zM1197.1 1186.7h2.95v21.7h-2.95zM1199.8 1177.2h2.95v46.5h-2.95zM1202.4 1169.5h2.95v44.1h-2.95zM1205.1 1187.2h2.95v27.1h-2.95zM1207.7 1182.3h2.95v31.6h-2.95zM1210.4 1177.9h2.95v32.4h-2.95zM1213.0 1176.6h2.95v19.9h-2.95zM1215.7 1164.4h2.95v40.5h-2.95zM1218.3 1168.5h2.95v36.9h-2.95zM1221.0 1189.8h2.95v11.0h-2.95zM1223.6 1183.4h2.95v34.6h-2.95zM1226.3 1188.7h2.95v18.5h-2.95zM1228.9 1174.5h2.95v35.1h-2.95zM1231.6 1180.1h2.95v22.0h-2.95zM1234.2 1179.9h2.95v28.3h-2.95zM1236.9 1180.8h2.95v29.8h-2.95zM1239.5 1182.6h2.95v29.9h-2.95zM1242.2 1175.3h2.95v26.7h-2.95zM1244.8 1181.9h2.95v35.4h-2.95zM1247.5 1193.6h2.95v13.3h-2.95zM1250.1 1188.5h2.95v22.4h-2.95zM1252.8 1175.8h2.95v35.7h-2.95zM1255.4 1174.6h2.95v48.5h-2.95zM1258.0 1162.2h2.95v46.8h-2.95zM1260.7 1197.6h2.95v11.7h-2.95zM1263.3 1195.4h2.95v13.1h-2.95zM1266.0 1187.4h2.95v26.2h-2.95zM1268.6 1175.0h2.95v36.2h-2.95zM1271.3 1185.8h2.95v14.9h-2.95zM1273.9 1180.0h2.95v25.5h-2.95zM1276.6 1178.6h2.95v26.5h-2.95zM1279.2 1178.4h2.95v39.4h-2.95zM1281.9 1170.7h2.95v40.9h-2.95zM1284.5 1193.8h2.95v20.1h-2.95zM1287.2 1193.0h2.95v24.8h-2.95zM1289.8 1175.6h2.95v36.4h-2.95zM1292.5 1186.0h2.95v32.6h-2.95zM1295.1 1179.9h2.95v30.5h-2.95zM1297.8 1178.5h2.95v34.5h-2.95zM1300.4 1183.1h2.95v28.2h-2.95zM1303.1 1195.3h2.95v24.3h-2.95zM1305.7 1192.6h2.95v24.4h-2.95zM1308.4 1196.7h2.95v24.0h-2.95zM1311.0 1182.6h2.95v42.2h-2.95zM1313.7 1186.4h2.95v20.0h-2.95zM1316.3 1185.3h2.95v20.8h-2.95zM1319.0 1178.5h2.95v48.7h-2.95zM1321.6 1181.8h2.95v23.2h-2.95zM1324.3 1191.1h2.95v14.8h-2.95zM1326.9 1180.9h2.95v21.3h-2.95zM1329.6 1188.6h2.95v15.9h-2.95zM1332.2 1182.8h2.95v20.3h-2.95zM1334.9 1158.5h2.95v65.0h-2.95zM1337.5 1186.0h2.95v32.6h-2.95zM1340.2 1187.3h2.95v14.6h-2.95zM1342.8 1165.5h2.95v39.1h-2.95zM1345.4 1183.6h2.95v20.5h-2.95zM1348.1 1167.6h2.95v37.6h-2.95zM1350.7 1187.6h2.95v26.4h-2.95zM1353.4 1171.4h2.95v30.0h-2.95zM1356.0 1176.1h2.95v28.3h-2.95zM1358.7 1177.1h2.95v32.7h-2.95zM1361.3 1176.9h2.95v34.5h-2.95zM1364.0 1170.3h2.95v21.7h-2.95zM1366.6 1165.7h2.95v42.5h-2.95zM1369.3 1173.1h2.95v30.1h-2.95zM1371.9 1168.7h2.95v30.9h-2.95zM1374.6 1180.4h2.95v13.5h-2.95zM1377.2 1160.3h2.95v25.6h-2.95zM1379.9 1154.7h2.95v27.1h-2.95zM1382.5 1151.3h2.95v24.7h-2.95zM1385.2 1141.4h2.95v26.5h-2.95zM1387.8 1121.3h2.95v28.3h-2.95zM1390.5 1113.1h2.95v34.5h-2.95zM1393.1 1111.0h2.95v24.0h-2.95zM1395.8 1110.0h2.95v21.4h-2.95zM1398.4 1110.0h2.95v35.2h-2.95zM1401.1 1117.1h2.95v33.8h-2.95zM1403.7 1129.7h2.95v42.5h-2.95zM1406.4 1150.9h2.95v32.3h-2.95zM1409.0 1151.6h2.95v23.6h-2.95zM1411.7 1160.1h2.95v28.4h-2.95zM1414.3 1164.5h2.95v25.9h-2.95zM1417.0 1148.6h2.95v35.2h-2.95zM1419.6 1159.5h2.95v38.3h-2.95zM1422.3 1184.9h2.95v22.0h-2.95zM1424.9 1177.8h2.95v36.6h-2.95zM1427.6 1172.4h2.95v35.0h-2.95zM1430.2 1189.5h2.95v32.8h-2.95zM1432.8 1191.0h2.95v30.8h-2.95zM1435.5 1186.3h2.95v23.1h-2.95zM1438.1 1186.9h2.95v35.2h-2.95zM1440.8 1180.4h2.95v22.4h-2.95zM1443.4 1188.0h2.95v25.1h-2.95zM1446.1 1182.4h2.95v33.0h-2.95zM1448.7 1190.9h2.95v23.0h-2.95zM1451.4 1178.1h2.95v25.8h-2.95zM1454.0 1184.0h2.95v29.0h-2.95zM1456.7 1185.2h2.95v14.0h-2.95zM1459.3 1182.3h2.95v36.9h-2.95zM1462.0 1192.6h2.95v16.3h-2.95zM1464.6 1172.5h2.95v39.8h-2.95zM1467.3 1187.0h2.95v33.5h-2.95zM1469.9 1182.4h2.95v43.5h-2.95zM1472.6 1193.2h2.95v13.2h-2.95zM1475.2 1182.2h2.95v29.4h-2.95zM1477.9 1189.9h2.95v33.9h-2.95zM1480.5 1187.6h2.95v33.4h-2.95zM1483.2 1193.3h2.95v31.3h-2.95zM1485.8 1200.1h2.95v31.4h-2.95zM1488.5 1206.7h2.95v29.7h-2.95zM1491.1 1193.1h2.95v19.7h-2.95zM1493.8 1198.3h2.95v29.2h-2.95zM1496.4 1187.6h2.95v32.3h-2.95zM1499.1 1200.3h2.95v23.2h-2.95zM1501.7 1196.3h2.95v45.3h-2.95zM1504.4 1198.7h2.95v34.0h-2.95zM1507.0 1201.8h2.95v24.8h-2.95zM1509.7 1203.8h2.95v28.5h-2.95zM1512.3 1212.1h2.95v15.8h-2.95zM1515.0 1193.3h2.95v39.2h-2.95zM1517.6 1194.4h2.95v23.2h-2.95zM1520.3 1203.5h2.95v20.1h-2.95zM1522.9 1191.8h2.95v29.3h-2.95zM1525.5 1199.8h2.95v15.4h-2.95zM1528.2 1186.6h2.95v38.8h-2.95zM1530.8 1207.0h2.95v14.1h-2.95zM1533.5 1204.7h2.95v25.6h-2.95zM1536.1 1206.0h2.95v20.9h-2.95zM1538.8 1199.6h2.95v31.6h-2.95zM1541.4 1209.6h2.95v28.8h-2.95zM1544.1 1191.8h2.95v33.9h-2.95zM1546.7 1211.1h2.95v18.0h-2.95zM1549.4 1202.7h2.95v15.0h-2.95zM1552.0 1186.5h2.95v31.6h-2.95zM1554.7 1208.1h2.95v22.4h-2.95zM1557.3 1208.1h2.95v20.4h-2.95zM1560.0 1201.2h2.95v28.2h-2.95zM1562.6 1212.5h2.95v20.5h-2.95zM1565.3 1206.7h2.95v17.8h-2.95zM1567.9 1191.9h2.95v35.5h-2.95zM1570.6 1202.6h2.95v24.6h-2.95zM1573.2 1208.9h2.95v18.3h-2.95zM1575.9 1209.4h2.95v14.1h-2.95zM1578.5 1202.2h2.95v24.8h-2.95zM1581.2 1208.0h2.95v10.6h-2.95zM1583.8 1203.1h2.95v20.4h-2.95zM1586.5 1203.6h2.95v16.5h-2.95zM1589.1 1198.1h2.95v30.4h-2.95zM1591.8 1197.3h2.95v29.7h-2.95zM1594.4 1202.5h2.95v26.9h-2.95zM1597.1 1193.6h2.95v32.6h-2.95zM1599.7 1191.7h2.95v23.3h-2.95zM1602.4 1200.3h2.95v25.8h-2.95zM1605.0 1195.7h2.95v44.3h-2.95zM1607.7 1189.7h2.95v36.6h-2.95zM1610.3 1188.6h2.95v25.0h-2.95zM1612.9 1183.9h2.95v48.7h-2.95zM1615.6 1198.9h2.95v19.0h-2.95zM1618.2 1182.7h2.95v43.6h-2.95zM1620.9 1174.7h2.95v43.7h-2.95zM1623.5 1179.6h2.95v35.4h-2.95zM1626.2 1186.0h2.95v35.9h-2.95zM1628.8 1185.6h2.95v30.9h-2.95zM1631.5 1187.8h2.95v43.6h-2.95zM1634.1 1189.6h2.95v32.5h-2.95zM1636.8 1183.1h2.95v33.3h-2.95zM1639.4 1176.8h2.95v39.5h-2.95zM1642.1 1187.2h2.95v35.3h-2.95zM1644.7 1184.2h2.95v49.3h-2.95zM1647.4 1171.7h2.95v43.5h-2.95zM1650.0 1195.4h2.95v28.0h-2.95zM1652.7 1183.0h2.95v47.9h-2.95zM1655.3 1178.5h2.95v51.4h-2.95zM1658.0 1192.8h2.95v28.9h-2.95zM1660.6 1202.7h2.95v27.0h-2.95zM1663.3 1192.4h2.95v31.5h-2.95zM1665.9 1200.2h2.95v14.7h-2.95zM1668.6 1199.6h2.95v15.1h-2.95zM1671.2 1196.6h2.95v19.8h-2.95zM1673.9 1196.2h2.95v22.3h-2.95zM1676.5 1184.3h2.95v34.3h-2.95zM1679.2 1195.6h2.95v31.9h-2.95zM1681.8 1190.2h2.95v32.2h-2.95zM1684.5 1204.8h2.95v12.5h-2.95zM1687.1 1204.0h2.95v22.7h-2.95zM1689.8 1205.7h2.95v32.0h-2.95zM1692.4 1196.1h2.95v38.5h-2.95zM1695.1 1192.3h2.95v38.2h-2.95zM1697.7 1208.1h2.95v26.5h-2.95zM1700.4 1209.8h2.95v20.3h-2.95zM1703.0 1201.9h2.95v34.9h-2.95zM1705.6 1216.9h2.95v19.8h-2.95zM1708.3 1212.3h2.95v28.7h-2.95zM1710.9 1210.9h2.95v25.3h-2.95zM1713.6 1209.2h2.95v21.9h-2.95zM1716.2 1211.0h2.95v26.4h-2.95zM1718.9 1212.8h2.95v35.1h-2.95zM1721.5 1221.4h2.95v14.8h-2.95zM1724.2 1197.3h2.95v42.6h-2.95zM1726.8 1210.8h2.95v27.0h-2.95zM1729.5 1220.4h2.95v19.9h-2.95zM1732.1 1195.8h2.95v33.6h-2.95zM1734.8 1202.6h2.95v33.5h-2.95zM1737.4 1206.1h2.95v44.9h-2.95zM1740.1 1210.4h2.95v23.7h-2.95zM1742.7 1213.2h2.95v24.3h-2.95zM1745.4 1215.9h2.95v26.5h-2.95zM1748.0 1207.6h2.95v24.5h-2.95zM1750.7 1216.6h2.95v12.6h-2.95zM1753.3 1205.1h2.95v35.7h-2.95zM1756.0 1209.9h2.95v20.8h-2.95zM1758.6 1207.7h2.95v19.8h-2.95zM1761.3 1207.1h2.95v25.3h-2.95zM1763.9 1204.0h2.95v26.5h-2.95zM1766.6 1209.0h2.95v24.3h-2.95zM1769.2 1209.5h2.95v19.1h-2.95zM1771.9 1206.7h2.95v28.8h-2.95zM1774.5 1211.4h2.95v32.1h-2.95zM1777.2 1211.1h2.95v16.9h-2.95zM1779.8 1204.0h2.95v24.0h-2.95zM1782.5 1210.8h2.95v19.2h-2.95zM1785.1 1202.2h2.95v21.6h-2.95zM1787.8 1209.6h2.95v9.3h-2.95zM1790.4 1194.5h2.95v32.9h-2.95zM1793.0 1210.1h2.95v18.6h-2.95zM1795.7 1197.5h2.95v33.2h-2.95zM1798.3 1200.0h2.95v20.7h-2.95zM1801.0 1196.9h2.95v25.4h-2.95zM1803.6 1203.3h2.95v13.2h-2.95zM1806.3 1206.1h2.95v17.1h-2.95zM1808.9 1198.1h2.95v25.4h-2.95zM1811.6 1193.7h2.95v20.8h-2.95zM1814.2 1196.4h2.95v22.6h-2.95zM1816.9 1204.5h2.95v30.9h-2.95zM1819.5 1188.8h2.95v24.5h-2.95zM1822.2 1205.5h2.95v23.5h-2.95zM1824.8 1208.6h2.95v18.4h-2.95zM1827.5 1194.5h2.95v28.4h-2.95zM1830.1 1197.5h2.95v20.1h-2.95zM1832.8 1195.3h2.95v30.0h-2.95zM1835.4 1207.6h2.95v15.5h-2.95zM1838.1 1202.8h2.95v23.9h-2.95zM1840.7 1203.6h2.95v23.5h-2.95zM1843.4 1206.2h2.95v19.0h-2.95zM1846.0 1207.1h2.95v21.4h-2.95zM1848.7 1215.0h2.95v14.0h-2.95zM1851.3 1210.6h2.95v25.8h-2.95zM1854.0 1219.0h2.95v18.4h-2.95zM1856.6 1222.7h2.95v13.8h-2.95zM1859.3 1214.5h2.95v31.6h-2.95zM1861.9 1205.7h2.95v49.0h-2.95zM1864.6 1210.2h2.95v28.4h-2.95zM1867.2 1229.8h2.95v18.8h-2.95zM1869.9 1214.7h2.95v28.4h-2.95zM1872.5 1200.9h2.95v35.2h-2.95zM1875.2 1210.0h2.95v26.5h-2.95zM1877.8 1212.8h2.95v23.2h-2.95zM1880.4 1217.1h2.95v12.6h-2.95zM1883.1 1220.3h2.95v29.2h-2.95zM1885.7 1208.8h2.95v25.5h-2.95zM1888.4 1218.8h2.95v14.7h-2.95zM1891.0 1225.4h2.95v7.3h-2.95zM1893.7 1221.8h2.95v19.0h-2.95zM1896.3 1219.4h2.95v26.2h-2.95zM1899.0 1223.5h2.95v22.1h-2.95zM1901.6 1220.3h2.95v9.2h-2.95zM1904.3 1213.9h2.95v23.2h-2.95zM1906.9 1221.0h2.95v18.5h-2.95zM1909.6 1212.3h2.95v31.0h-2.95zM1912.2 1224.7h2.95v25.2h-2.95zM1914.9 1221.9h2.95v12.0h-2.95zM1917.5 1225.0h2.95v17.5h-2.95zM1920.2 1210.2h2.95v27.9h-2.95zM1922.8 1220.8h2.95v25.4h-2.95zM1925.5 1216.8h2.95v16.4h-2.95zM1928.1 1224.0h2.95v23.2h-2.95zM1930.8 1227.2h2.95v14.4h-2.95zM1933.4 1217.9h2.95v20.2h-2.95zM1936.1 1216.5h2.95v27.6h-2.95zM1938.7 1221.6h2.95v15.2h-2.95zM1941.4 1219.6h2.95v20.2h-2.95zM1944.0 1229.6h2.95v12.0h-2.95zM1946.7 1220.2h2.95v20.4h-2.95zM1949.3 1217.0h2.95v26.1h-2.95zM1952.0 1216.8h2.95v24.1h-2.95zM1954.6 1220.3h2.95v28.3h-2.95zM1957.3 1217.8h2.95v23.8h-2.95zM1959.9 1221.9h2.95v27.3h-2.95zM1962.6 1228.4h2.95v19.4h-2.95zM1965.2 1227.3h2.95v17.6h-2.95zM1967.9 1229.9h2.95v8.3h-2.95zM1970.5 1232.8h2.95v21.0h-2.95zM1973.1 1225.6h2.95v17.7h-2.95zM1975.8 1229.0h2.95v11.9h-2.95zM1978.4 1224.1h2.95v23.2h-2.95zM1981.1 1224.0h2.95v30.5h-2.95zM1983.7 1222.0h2.95v23.6h-2.95zM1986.4 1216.3h2.95v28.8h-2.95zM1989.0 1230.2h2.95v19.8h-2.95zM1991.7 1227.1h2.95v20.8h-2.95zM1994.3 1224.0h2.95v26.5h-2.95zM1997.0 1221.6h2.95v14.8h-2.95zM1999.6 1223.2h2.95v16.3h-2.95zM2002.3 1220.8h2.95v26.2h-2.95zM2004.9 1235.0h2.95v15.8h-2.95zM2007.6 1219.8h2.95v18.6h-2.95zM2010.2 1229.5h2.95v22.8h-2.95zM2012.9 1227.2h2.95v19.5h-2.95zM2015.5 1229.8h2.95v14.8h-2.95zM2018.2 1230.6h2.95v12.6h-2.95zM2020.8 1232.5h2.95v17.0h-2.95zM2023.5 1224.3h2.95v23.4h-2.95zM2026.1 1232.8h2.95v12.8h-2.95zM2028.8 1226.1h2.95v22.8h-2.95zM2031.4 1226.9h2.95v22.9h-2.95zM2034.1 1227.6h2.95v20.1h-2.95zM2036.7 1229.1h2.95v14.2h-2.95zM2039.4 1230.4h2.95v15.8h-2.95zM2042.0 1231.6h2.95v10.8h-2.95zM2044.7 1224.7h2.95v28.5h-2.95zM2047.3 1221.6h2.95v35.8h-2.95zM2050.0 1229.7h2.95v12.6h-2.95zM2052.6 1227.4h2.95v20.7h-2.95zM2055.3 1223.3h2.95v35.4h-2.95zM2057.9 1232.2h2.95v11.7h-2.95zM2060.5 1222.0h2.95v30.3h-2.95zM2063.2 1226.4h2.95v16.3h-2.95zM2065.8 1233.4h2.95v21.8h-2.95zM2068.5 1220.9h2.95v28.7h-2.95zM2071.1 1224.9h2.95v22.1h-2.95zM2073.8 1234.7h2.95v17.9h-2.95zM2076.4 1226.3h2.95v18.7h-2.95zM2079.1 1227.8h2.95v22.3h-2.95zM2081.7 1229.0h2.95v24.0h-2.95zM2084.4 1229.1h2.95v24.2h-2.95zM2087.0 1224.7h2.95v17.1h-2.95zM2089.7 1230.6h2.95v13.9h-2.95zM2092.3 1224.8h2.95v19.9h-2.95zM2095.0 1214.9h2.95v18.0h-2.95zM2097.6 1226.3h2.95v21.1h-2.95zM2100.3 1234.0h2.95v13.3h-2.95zM2102.9 1227.8h2.95v18.0h-2.95zM2105.6 1232.8h2.95v9.0h-2.95zM2108.2 1224.8h2.95v24.9h-2.95zM2110.9 1228.2h2.95v21.0h-2.95zM2113.5 1232.2h2.95v13.6h-2.95zM2116.2 1230.2h2.95v14.1h-2.95zM2118.8 1219.1h2.95v24.3h-2.95zM2121.5 1230.7h2.95v20.9h-2.95zM2124.1 1236.1h2.95v17.1h-2.95zM2126.8 1227.3h2.95v12.7h-2.95zM2129.4 1219.9h2.95v31.6h-2.95zM2132.1 1236.6h2.95v13.9h-2.95zM2134.7 1223.2h2.95v19.1h-2.95zM2137.4 1232.2h2.95v13.7h-2.95zM2140.0 1229.3h2.95v15.1h-2.95zM2142.7 1226.5h2.95v12.5h-2.95zM2145.3 1226.9h2.95v20.2h-2.95zM2148.0 1227.7h2.95v16.7h-2.95zM2150.6 1221.1h2.95v23.8h-2.95zM2153.2 1232.4h2.95v21.9h-2.95zM2155.9 1224.4h2.95v21.5h-2.95zM2158.5 1229.2h2.95v22.9h-2.95zM2161.2 1224.8h2.95v24.2h-2.95zM2163.8 1226.0h2.95v21.4h-2.95zM2166.5 1227.2h2.51v12.6h-2.51z"/>
<path fill="#ff00ff" d="M168.8 754.8h1.01v17.7h-1.01zM169.5 703.7h2.95v72.4h-2.95zM172.2 729.2h2.95v37.8h-2.95zM174.8 725.6h2.95v44.6h-2.95zM177.5 726.8h2.95v35.0h-2.95zM180.1 671.7h2.95v121.7h-2.95zM182.7 684.2h2.95v107.2h-2.95zM185.4 722.5h2.95v97.0h-2.95zM188.0 709.6h2.95v88.0h-2.95zM190.7 723.0h2.95v41.0h-2.95zM193.3 744.0h2.95v19.8h-2.95zM196.0 735.2h2.95v50.6h-2.95zM198.6 727.8h2.95v57.7h-2.95zM201.3 722.6h2.95v49.8h-2.95zM203.9 725.9h2.95v45.8h-2.95zM206.6 710.2h2.95v80.2h-2.95zM209.2 732.1h2.95v47.3h-2.95zM211.9 712.4h2.95v61.0h-2.95zM214.5 706.2h2.95v66.9h-2.95zM217.2 729.2h2.95v40.8h-2.95zM219.8 716.3h2.95v48.8h-2.95zM222.5 674.5h2.95v51.9h-2.95zM225.1 696.2h2.95v32.9h-2.95zM227.8 640.0h2.95v81.0h-2.95zM230.4 640.7h2.95v44.3h-2.95zM233.1 615.7h2.95v46.1h-2.95zM235.7 615.0h2.95v45.9h-2.95zM238.4 615.0h2.95v62.8h-2.95zM241.0 589.9h2.95v37.4h-2.95zM243.7 546.9h2.95v47.3h-2.95zM246.3 497.0h2.95v56.0h-2.95zM249.0 466.8h2.95v83.2h-2.95zM251.6 423.5h2.95v53.5h-2.95zM254.3 418.0h2.95v54.1h-2.95zM256.9 418.0h2.95v71.6h-2.95zM259.6 472.7h2.95v42.2h-2.95zM262.2 512.5h2.95v60.9h-2.95zM264.9 541.1h2.95v55.3h-2.95zM267.5 562.1h2.95v64.7h-2.95zM270.1 618.3h2.95v55.3h-2.95zM272.8 634.2h2.95v82.2h-2.95zM275.4 630.1h2.95v61.1h-2.95zM278.1 600.8h2.95v86.8h-2.95zM280.7 610.2h2.95v58.2h-2.95zM283.4 573.0h2.95v56.2h-2.95zM286.0 547.8h2.95v72.0h-2.95zM288.7 533.5h2.95v22.3h-2.95zM291.3 524.0h2.95v41.1h-2.95zM294.0 561.3h2.95v32.6h-2.95zM296.6 587.6h2.95v48.5h-2.95zM299.3 613.7h2.95v47.8h-2.95zM301.9 644.9h2.95v52.0h-2.95zM304.6 659.2h2.95v34.4h-2.95zM307.2 653.1h2.95v75.1h-2.95zM309.9 669.3h2.95v22.0h-2.95zM312.5 647.5h2.95v40.1h-2.95zM315.2 637.8h2.95v34.6h-2.95zM317.8 627.0h2.95v25.1h-2.95zM320.5 628.0h2.95v40.1h-2.95zM323.1 627.0h2.95v91.3h-2.95zM325.8 630.6h2.95v65.0h-2.95zM328.4 669.8h2.95v30.2h-2.95zM331.1 678.4h2.95v31.2h-2.95zM333.7 697.2h2.95v49.3h-2.95zM336.4 720.1h2.95v65.7h-2.95zM339.0 735.9h2.95v28.0h-2.95zM341.7 751.4h2.95v47.7h-2.95zM344.3 753.7h2.95v53.2h-2.95zM347.0 738.2h2.95v36.0h-2.95zM349.6 731.8h2.95v77.8h-2.95zM352.3 746.3h2.95v23.1h-2.95zM354.9 758.3h2.95v44.0h-2.95zM357.6 736.3h2.95v52.0h-2.95zM360.2 709.9h2.95v101.7h-2.95zM362.8 734.0h2.95v53.0h-2.95zM365.5 750.0h2.95v45.8h-2.95zM368.1 729.6h2.95v68.1h-2.95zM370.8 748.3h2.95v49.1h-2.95zM373.4 758.7h2.95v45.1h-2.95zM376.1 749.2h2.95v60.8h-2.95zM378.7 739.8h2.95v94.7h-2.95zM381.4 749.1h2.95v67.1h-2.95zM384.0 767.5h2.95v55.9h-2.95zM386.7 764.5h2.95v47.0h-2.95zM389.3 770.2h2.95v46.1h-2.95zM392.0 751.0h2.95v47.9h-2.95zM394.6 761.1h2.95v51.3h-2.95zM397.3 757.9h2.95v85.8h-2.95zM399.9 745.0h2.95v82.5h-2.95zM402.6 771.4h2.95v47.9h-2.95zM405.2 785.1h2.95v42.9h-2.95zM407.9 799.7h2.95v22.1h-2.95zM410.5 792.6h2.95v39.9h-2.95zM413.2 797.1h2.95v55.7h-2.95zM415.8 786.5h2.95v41.1h-2.95zM418.5 786.5h2.95v58.9h-2.95zM421.1 803.6h2.95v45.1h-2.95zM423.8 807.1h2.95v60.3h-2.95zM426.4 794.9h2.95v46.3h-2.95zM429.1 815.1h2.95v46.1h-2.95zM431.7 803.5h2.95v52.6h-2.95zM434.4 808.0h2.95v19.2h-2.95zM437.0 775.1h2.95v57.1h-2.95zM439.7 796.7h2.95v34.7h-2.95zM442.3 802.2h2.95v80.7h-2.95zM445.0 787.4h2.95v62.1h-2.95zM447.6 782.7h2.95v64.4h-2.95zM450.2 763.4h2.95v71.9h-2.95zM452.9 785.8h2.95v94.8h-2.95zM455.5 793.3h2.95v62.4h-2.95zM458.2 795.4h2.95v79.1h-2.95zM460.8 798.2h2.95v57.3h-2.95zM463.5 808.6h2.95v53.0h-2.95zM466.1 797.9h2.95v99.4h-2.95zM468.8 794.1h2.95v83.2h-2.95zM471.4 816.9h2.95v45.3h-2.95zM474.1 838.9h2.95v56.2h-2.95zM476.7 828.0h2.95v48.4h-2.95zM479.4 824.8h2.95v56.8h-2.95zM482.0 815.0h2.95v64.4h-2.95zM484.7 848.9h2.95v34.7h-2.95zM487.3 832.8h2.95v44.2h-2.95zM490.0 829.6h2.95v64.7h-2.95zM492.6 805.3h2.95v91.1h-2.95zM495.3 802.9h2.95v69.7h-2.95zM497.9 833.1h2.95v41.0h-2.95zM500.6 806.0h2.95v65.5h-2.95zM503.2 778.1h2.95v75.4h-2.95zM505.9 815.2h2.95v28.7h-2.95zM508.5 814.6h2.95v67.5h-2.95zM511.2 849.7h2.95v47.9h-2.95zM513.8 821.4h2.95v54.5h-2.95zM516.5 822.2h2.95v82.7h-2.95zM519.1 849.9h2.95v32.2h-2.95zM521.8 840.6h2.95v55.5h-2.95zM524.4 838.9h2.95v79.8h-2.95zM527.1 819.4h2.95v77.7h-2.95zM529.7 840.8h2.95v41.2h-2.95zM532.4 862.7h2.95v14.0h-2.95zM535.0 826.9h2.95v60.9h-2.95zM537.6 841.8h2.95v46.8h-2.95zM540.3 838.1h2.95v22.9h-2.95zM542.9 824.0h2.95v68.0h-2.95zM545.6 828.0h2.95v66.3h-2.95zM548.2 830.1h2.95v82.2h-2.95zM550.9 846.4h2.95v49.5h-2.95zM553.5 861.6h2.95v37.8h-2.95zM556.2 859.3h2.95v56.6h-2.95zM558.8 866.3h2.95v49.6h-2.95zM561.5 829.6h2.95v81.1h-2.95zM564.1 852.0h2.95v49.4h-2.95zM566.8 824.6h2.95v54.0h-2.95zM569.4 835.2h2.95v61.5h-2.95zM572.1 839.3h2.95v94.8h-2.95zM574.7 864.3h2.95v46.6h-2.95zM577.4 879.6h2.95v50.0h-2.95zM580.0 870.3h2.95v44.6h-2.95zM582.7 868.5h2.95v52.2h-2.95zM585.3 865.0h2.95v41.4h-2.95zM588.0 851.9h2.95v54.2h-2.95zM590.6 867.3h2.95v47.6h-2.95zM593.3 863.4h2.95v56.8h-2.95zM595.9 866.1h2.95v54.8h-2.95zM598.6 861.4h2.95v38.0h-2.95zM601.2 875.5h2.95v23.9h-2.95zM603.9 875.6h2.95v55.7h-2.95zM606.5 855.8h2.95v60.1h-2.95zM609.2 848.3h2.95v46.7h-2.95zM611.8 849.7h2.95v77.4h-2.95zM614.5 862.8h2.95v48.8h-2.95zM617.1 868.6h2.95v59.3h-2.95zM619.8 872.5h2.95v57.7h-2.95zM622.4 854.9h2.95v63.8h-2.95zM625.1 835.9h2.95v70.9h-2.95zM627.7 863.4h2.95v55.3h-2.95zM630.3 855.9h2.95v32.6h-2.95zM633.0 853.7h2.95v20.9h-2.95zM635.6 844.8h2.95v28.6h-2.95zM638.3 834.3h2.95v37.1h-2.95zM640.9 796.6h2.95v40.1h-2.95zM643.6 769.2h2.95v65.7h-2.95zM646.2 746.0h2.95v43.1h-2.95zM648.9 734.3h2.95v34.6h-2.95zM651.5 709.0h2.95v35.7h-2.95zM654.2 722.6h2.95v32.3h-2.95zM656.8 742.3h2.95v70.9h-2.95zM659.5 758.8h2.95v37.1h-2.95zM662.1 777.5h2.95v62.7h-2.95zM664.8 794.0h2.95v45.6h-2.95zM667.4 829.4h2.95v51.9h-2.95zM670.1 829.7h2.95v56.1h-2.95zM672.7 859.5h2.95v47.0h-2.95zM675.4 867.7h2.95v56.8h-2.95zM678.0 840.8h2.95v88.9h-2.95zM680.7 864.4h2.95v40.0h-2.95zM683.3 852.7h2.95v64.4h-2.95zM686.0 863.6h2.95v71.5h-2.95zM688.6 865.7h2.95v49.0h-2.95zM691.3 867.3h2.95v59.7h-2.95zM693.9 873.0h2.95v73.0h-2.95zM696.6 890.3h2.95v46.3h-2.95zM699.2 877.2h2.95v34.1h-2.95zM701.9 872.8h2.95v58.4h-2.95zM704.5 883.2h2.95v53.6h-2.95zM707.2 896.3h2.95v45.3h-2.95zM709.8 873.9h2.95v58.0h-2.95zM712.5 902.3h2.95v65.8h-2.95zM715.1 907.3h2.95v40.1h-2.95zM717.7 899.5h2.95v47.4h-2.95zM720.4 899.2h2.95v44.7h-2.95zM723.0 902.3h2.95v57.6h-2.95zM725.7 901.4h2.95v80.2h-2.95zM728.3 918.2h2.95v38.5h-2.95zM731.0 908.0h2.95v74.3h-2.95zM733.6 901.1h2.95v49.5h-2.95zM736.3 877.9h2.95v69.0h-2.95zM738.9 875.8h2.95v78.4h-2.95zM741.6 892.2h2.95v82.3h-2.95zM744.2 892.3h2.95v59.7h-2.95zM746.9 898.3h2.95v45.1h-2.95zM749.5 912.2h2.95v77.9h-2.95zM752.2 921.4h2.95v34.2h-2.95zM754.8 919.1h2.95v57.9h-2.95zM757.5 908.6h2.95v56.5h-2.95zM760.1 889.0h2.95v46.7h-2.95zM762.8 880.5h2.95v68.4h-2.95zM765.4 913.0h2.95v42.4h-2.95zM768.1 898.3h2.95v54.5h-2.95zM770.7 909.8h2.95v44.8h-2.95zM773.4 909.0h2.95v65.0h-2.95zM776.0 927.3h2.95v34.5h-2.95zM778.7 913.5h2.95v48.8h-2.95zM781.3 925.2h2.95v46.3h-2.95zM784.0 919.7h2.95v34.1h-2.95zM786.6 924.5h2.95v52.7h-2.95zM789.3 927.0h2.95v33.2h-2.95zM791.9 910.9h2.95v38.3h-2.95zM794.6 933.2h2.95v27.4h-2.95zM797.2 927.8h2.95v48.1h-2.95zM799.9 935.8h2.95v51.2h-2.95zM802.5 932.0h2.95v41.2h-2.95zM805.2 937.3h2.95v30.2h-2.95zM807.8 935.5h2.95v32.2h-2.95zM810.4 930.4h2.95v30.3h-2.95zM813.1 940.8h2.95v27.5h-2.95zM815.7 921.1h2.95v56.7h-2.95zM818.4 933.8h2.95v32.0h-2.95zM821.0 946.1h2.95v40.8h-2.95zM823.7 922.5h2.95v42.4h-2.95zM826.3 922.5h2.95v72.2h-2.95zM829.0 920.5h2.95v52.2h-2.95zM831.6 950.1h2.95v45.9h-2.95zM834.3 931.3h2.95v58.1h-2.95zM836.9 945.4h2.95v38.7h-2.95zM839.6 933.4h2.95v76.5h-2.95zM842.2 916.7h2.95v86.5h-2.95zM844.9 955.2h2.95v32.7h-2.95zM847.5 965.4h2.95v33.0h-2.95zM850.2 944.0h2.95v48.0h-2.95zM852.8 949.9h2.95v27.9h-2.95zM855.5 965.1h2.95v20.0h-2.95zM858.1 964.4h2.95v24.4h-2.95zM860.8 957.1h2.95v54.0h-2.95zM863.4 971.4h2.95v34.2h-2.95zM866.1 969.9h2.95v27.8h-2.95zM868.7 958.1h2.95v62.2h-2.95zM871.4 948.0h2.95v40.5h-2.95zM874.0 948.6h2.95v50.7h-2.95zM876.7 951.2h2.95v22.7h-2.95zM879.3 920.5h2.95v36.3h-2.95zM882.0 930.6h2.95v28.8h-2.95zM884.6 938.4h2.95v29.0h-2.95zM887.3 920.4h2.95v31.2h-2.95zM889.9 940.4h2.95v31.7h-2.95zM892.6 955.6h2.95v50.6h-2.95zM895.2 940.8h2.95v51.6h-2.95zM897.8 955.7h2.95v49.3h-2.95zM900.5 940.8h2.95v56.4h-2.95zM903.1 967.2h2.95v47.2h-2.95zM905.8 952.8h2.95v60.0h-2.95zM908.4 982.2h2.95v28.6h-2.95zM911.1 984.3h2.95v35.0h-2.95zM913.7 971.1h2.95v45.4h-2.95zM916.4 969.2h2.95v58.1h-2.95zM919.0 986.1h2.95v14.0h-2.95zM921.7 949.5h2.95v49.5h-2.95zM924.3 970.5h2.95v27.3h-2.95zM927.0 936.7h2.95v61.9h-2.95zM929.6 923.3h2.95v45.2h-2.95zM932.3 911.8h2.95v46.6h-2.95zM934.9 898.0h2.95v31.2h-2.95zM937.6 901.8h2.95v54.2h-2.95zM940.2 930.5h2.95v58.1h-2.95zM942.9 975.8h2.95v40.7h-2.95zM945.5 981.9h2.95v22.6h-2.95zM948.2 968.4h2.95v68.1h-2.95zM950.8 991.4h2.95v29.7h-2.95zM953.5 983.6h2.95v43.3h-2.95zM956.1 988.7h2.95v31.2h-2.95zM958.8 983.6h2.95v43.1h-2.95zM961.4 977.1h2.95v27.9h-2.95zM964.1 980.0h2.95v51.3h-2.95zM966.7 970.6h2.95v70.2h-2.95zM969.4 979.2h2.95v66.4h-2.95zM972.0 970.8h2.95v49.5h-2.95zM974.7 996.1h2.95v13.9h-2.95zM977.3 982.7h2.95v30.7h-2.95zM980.0 997.4h2.95v27.4h-2.95zM982.6 980.1h2.95v33.9h-2.95zM985.2 961.3h2.95v48.3h-2.95zM987.9 970.4h2.95v24.6h-2.95zM990.5 982.6h2.95v29.8h-2.95zM993.2 978.2h2.95v39.6h-2.95zM995.8 954.8h2.95v57.1h-2.95zM998.5 992.4h2.95v33.8h-2.95zM1001.1 978.0h2.95v20.8h-2.95zM1003.8 962.0h2.95v40.4h-2.95zM1006.4 967.9h2.95v43.4h-2.95zM1009.1 963.0h2.95v19.8h-2.95zM1011.7 953.5h2.95v39.1h-2.95zM1014.4 941.1h2.95v32.0h-2.95zM1017.0 922.0h2.95v33.9h-2.95zM1019.7 892.5h2.95v44.3h-2.95zM1022.3 879.7h2.95v15.2h-2.95zM1025.0 809.8h2.95v84.7h-2.95zM1027.6 778.3h2.95v61.0h-2.95zM1030.3 764.4h2.95v31.8h-2.95zM1032.9 775.0h2.95v44.7h-2.95zM1035.6 800.2h2.95v41.5h-2.95zM1038.2 839.3h2.95v40.3h-2.95zM1040.9 877.2h2.95v58.5h-2.95zM1043.5 913.7h2.95v52.2h-2.95zM1046.2 944.2h2.95v37.7h-2.95zM1048.8 952.7h2.95v25.9h-2.95zM1051.5 962.9h2.95v40.9h-2.95zM1054.1 964.3h2.95v42.4h-2.95zM1056.8 968.7h2.95v42.7h-2.95zM1059.4 972.9h2.95v60.1h-2.95zM1062.1 954.9h2.95v41.1h-2.95zM1064.7 976.5h2.95v39.8h-2.95zM1067.4 974.8h2.95v29.4h-2.95zM1070.0 995.1h2.95v16.6h-2.95zM1072.7 984.0h2.95v35.1h-2.95zM1075.3 981.4h2.95v30.3h-2.95zM1077.9 991.3h2.95v48.2h-2.95zM1080.6 994.0h2.95v19.4h-2.95zM1083.2 969.5h2.95v41.8h-2.95zM1085.9 977.5h2.95v35.4h-2.95zM1088.5 974.6h2.95v61.0h-2.95zM1091.2 995.0h2.95v22.2h-2.95zM1093.8 988.5h2.95v33.5h-2.95zM1096.5 982.2h2.95v43.8h-2.95zM1099.1 984.2h2.95v19.7h-2.95zM1101.8 958.3h2.95v31.6h-2.95zM1104.4 944.3h2.95v36.0h-2.95zM1107.1 943.3h2.95v35.1h-2.95zM1109.7 920.0h2.95v41.6h-2.95zM1112.4 920.1h2.95v33.2h-2.95zM1115.0 937.9h2.95v23.3h-2.95zM1117.7 943.8h2.95v25.1h-2.95zM1120.3 960.9h2.95v41.2h-2.95zM1123.0 979.5h2.95v27.2h-2.95zM1125.6 988.9h2.95v30.3h-2.95zM1128.3 991.8h2.95v36.3h-2.95zM1130.9 970.2h2.95v50.3h-2.95zM1133.6 982.8h2.95v34.1h-2.95zM1136.2 979.5h2.95v35.0h-2.95zM1138.9 983.9h2.95v61.2h-2.95zM1141.5 994.2h2.95v37.6h-2.95zM1144.2 987.4h2.95v39.3h-2.95zM1146.8 988.1h2.95v49.1h-2.95zM1149.5 1007.0h2.95v29.5h-2.95zM1152.1 1000.0h2.95v42.7h-2.95zM1154.8 1007.8h2.95v34.0h-2.95zM1157.4 1005.6h2.95v25.3h-2.95zM1160.1 1011.6h2.95v25.9h-2.95zM1162.7 1011.9h2.95v41.0h-2.95zM1165.3 1011.9h2.95v15.5h-2.95zM1168.0 1015.5h2.95v22.4h-2.95zM1170.6 1002.2h2.95v37.8h-2.95zM1173.3 1008.0h2.95v44.9h-2.95zM1175.9 1015.2h2.95v44.0h-2.95zM1178.6 1021.9h2.95v29.4h-2.95zM1181.2 1016.9h2.95v40.3h-2.95zM1183.9 1027.4h2.95v39.3h-2.95zM1186.5 1026.7h2.95v23.9h-2.95zM1189.2 1015.6h2.95v17.1h-2.95zM1191.8 1017.0h2.95v24.0h-2.95zM1194.5 1021.6h2.95v30.7h-2.95zM1197.1 1022.9h2.95v15.1h-2.95zM1199.8 1024.8h2.95v37.9h-2.95zM1202.4 1009.9h2.95v36.3h-2.95zM1205.1 1019.3h2.95v40.4h-2.95zM1207.7 1013.4h2.95v56.0h-2.95zM1210.4 1016.3h2.95v37.2h-2.95zM1213.0 1022.4h2.95v15.6h-2.95zM1215.7 1027.2h2.95v16.0h-2.95zM1218.3 1007.7h2.95v29.6h-2.95zM1221.0 1013.5h2.95v33.8h-2.95zM1223.6 1022.1h2.95v36.5h-2.95zM1226.3 1028.8h2.95v21.8h-2.95zM1228.9 1017.8h2.95v44.5h-2.95zM1231.6 1017.9h2.95v20.8h-2.95zM1234.2 1021.3h2.95v20.9h-2.95zM1236.9 1012.6h2.95v47.7h-2.95zM1239.5 1023.2h2.95v36.1h-2.95zM1242.2 1020.1h2.95v15.9h-2.95zM1244.8 1011.2h2.95v32.5h-2.95zM1247.5 1017.4h2.95v41.6h-2.95zM1250.1 1018.0h2.95v26.1h-2.95zM1252.8 1017.0h2.95v38.3h-2.95zM1255.4 1027.0h2.95v12.0h-2.95zM1258.0 997.0h2.95v57.9h-2.95zM1260.7 1014.1h2.95v27.5h-2.95zM1263.3 1027.2h2.95v23.8h-2.95zM1266.0 1014.7h2.95v27.5h-2.95zM1268.6 1015.7h2.95v36.1h-2.95zM1271.3 1017.9h2.95v32.5h-2.95zM1273.9 1015.4h2.95v22.3h-2.95zM1276.6 1025.9h2.95v45.5h-2.95zM1279.2 1021.8h2.95v22.4h-2.95zM1281.9 1030.5h2.95v29.6h-2.95zM1284.5 1020.7h2.95v33.4h-2.95zM1287.2 1025.4h2.95v12.5h-2.95zM1289.8 1022.4h2.95v36.7h-2.95zM1292.5 1023.5h2.95v27.2h-2.95zM1295.1 1014.8h2.95v34.6h-2.95zM1297.8 1016.8h2.95v29.2h-2.95zM1300.4 1024.3h2.95v19.4h-2.95zM1303.1 1018.1h2.95v36.0h-2.95zM1305.7 1020.4h2.95v21.2h-2.95zM1308.4 1020.3h2.95v20.7h-2.95zM1311.0 1011.0h2.95v32.5h-2.95zM1313.7 1011.7h2.95v44.1h-2.95zM1316.3 1024.4h2.95v45.2h-2.95zM1319.0 1026.4h2.95v24.6h-2.95zM1321.6 1012.3h2.95v37.6h-2.95zM1324.3 1022.0h2.95v27.9h-2.95zM1326.9 1015.5h2.95v30.6h-2.95zM1329.6 1005.9h2.95v42.5h-2.95zM1332.2 1010.8h2.95v26.9h-2.95zM1334.9 1029.0h2.95v21.5h-2.95zM1337.5 1008.9h2.95v44.7h-2.95zM1340.2 1016.5h2.95v24.2h-2.95zM1342.8 1013.5h2.95v28.2h-2.95zM1345.4 1014.6h2.95v23.1h-2.95zM1348.1 1002.0h2.95v29.0h-2.95zM1350.7 1018.4h2.95v22.2h-2.95zM1353.4 1016.0h2.95v23.9h-2.95zM1356.0 1011.7h2.95v39.0h-2.95zM1358.7 1013.3h2.95v21.7h-2.95zM1361.3 1007.8h2.95v37.7h-2.95zM1364.0 1025.0h2.95v15.6h-2.95zM1366.6 998.5h2.95v32.3h-2.95zM1369.3 1008.6h2.95v46.6h-2.95zM1371.9 999.5h2.95v48.4h-2.95zM1374.6 1007.5h2.95v36.0h-2.95zM1377.2 1001.2h2.95v32.9h-2.95zM1379.9 990.0h2.95v33.2h-2.95zM1382.5 991.3h2.95v21.8h-2.95zM1385.2 984.2h2.95v22.3h-2.95zM1387.8 963.8h2.95v30.6h-2.95zM1390.5 971.9h2.95v19.5h-2.95zM1393.1 948.9h2.95v31.3h-2.95zM1395.8 935.3h2.95v34.8h-2.95zM1398.4 931.1h2.95v38.5h-2.95zM1401.1 923.7h2.95v19.1h-2.95zM1403.7 923.0h2.95v36.1h-2.95zM1406.4 940.0h2.95v38.5h-2.95zM1409.0 942.5h2.95v40.7h-2.95zM1411.7 959.4h2.95v40.5h-2.95zM1414.3 981.5h2.95v22.9h-2.95zM1417.0 980.5h2.95v32.8h-2.95zM1419.6 993.5h2.95v41.9h-2.95zM1422.3 995.4h2.95v37.7h-2.95zM1424.9 985.6h2.95v42.5h-2.95zM1427.6 985.7h2.95v48.7h-2.95zM1430.2 998.3h2.95v47.0h-2.95zM1432.8 1015.1h2.95v22.8h-2.95zM1435.5 1014.7h2.95v46.0h-2.95zM1438.1 993.8h2.95v55.8h-2.95zM1440.8 1001.7h2.95v31.4h-2.95zM1443.4 1012.0h2.95v34.8h-2.95zM1446.1 1013.6h2.95v14.6h-2.95zM1448.7 1014.9h2.95v27.3h-2.95zM1451.4 1014.2h2.95v21.7h-2.95zM1454.0 1012.7h2.95v25.5h-2.95zM1456.7 1019.4h2.95v15.4h-2.95zM1459.3 1026.0h2.95v31.0h-2.95zM1462.0 1018.2h2.95v30.4h-2.95zM1464.6 990.2h2.95v61.5h-2.95zM1467.3 997.0h2.95v58.0h-2.95zM1469.9 1018.8h2.95v39.8h-2.95zM1472.6 1035.0h2.95v17.9h-2.95zM1475.2 1021.5h2.95v33.0h-2.95zM1477.9 1019.4h2.95v32.1h-2.95zM1480.5 1012.2h2.95v31.8h-2.95zM1483.2 1025.4h2.95v21.2h-2.95zM1485.8 1031.1h2.95v9.5h-2.95zM1488.5 1030.4h2.95v36.6h-2.95zM1491.1 1022.4h2.95v39.2h-2.95zM1493.8 1024.3h2.95v34.0h-2.95zM1496.4 1039.4h2.95v13.9h-2.95zM1499.1 1027.1h2.95v31.7h-2.95zM1501.7 1033.6h2.95v11.3h-2.95zM1504.4 1026.6h2.95v23.6h-2.95zM1507.0 1037.5h2.95v27.7h-2.95zM1509.7 1035.5h2.95v28.6h-2.95zM1512.3 1026.8h2.95v24.0h-2.95zM1515.0 1028.5h2.95v30.0h-2.95zM1517.6 1032.8h2.95v23.6h-2.95zM1520.3 1032.4h2.95v34.0h-2.95zM1522.9 1035.2h2.95v17.5h-2.95zM1525.5 1029.0h2.95v32.8h-2.95zM1528.2 1035.8h2.95v24.6h-2.95zM1530.8 1038.3h2.95v18.1h-2.95zM1533.5 1019.0h2.95v36.5h-2.95zM1536.1 1032.5h2.95v30.4h-2.95zM1538.8 1032.9h2.95v22.3h-2.95zM1541.4 1036.5h2.95v25.0h-2.95zM1544.1 1031.0h2.95v31.5h-2.95zM1546.7 1039.5h2.95v25.1h-2.95zM1549.4 1035.1h2.95v8.8h-2.95zM1552.0 1034.5h2.95v28.4h-2.95zM1554.7 1045.0h2.95v24.3h-2.95zM1557.3 1043.8h2.95v21.2h-2.95zM1560.0 1037.6h2.95v15.6h-2.95zM1562.6 1042.7h2.95v16.5h-2.95zM1565.3 1022.7h2.95v38.6h-2.95zM1567.9 1013.1h2.95v46.6h-2.95zM1570.6 1024.5h2.95v39.5h-2.95zM1573.2 1037.6h2.95v25.8h-2.95zM1575.9 1031.3h2.95v30.7h-2.95zM1578.5 1036.6h2.95v30.5h-2.95zM1581.2 1029.6h2.95v34.7h-2.95zM1583.8 1025.3h2.95v41.6h-2.95zM1586.5 1027.9h2.95v32.7h-2.95zM1589.1 1036.9h2.95v19.8h-2.95zM1591.8 1050.5h2.95v12.9h-2.95zM1594.4 1044.8h2.95v17.8h-2.95zM1597.1 1030.3h2.95v35.1h-2.95zM1599.7 1042.0h2.95v26.5h-2.95zM1602.4 1046.1h2.95v24.7h-2.95zM1605.0 1043.0h2.95v20.3h-2.95zM1607.7 1031.9h2.95v38.4h-2.95zM1610.3 1019.8h2.95v53.2h-2.95zM1612.9 1037.4h2.95v20.9h-2.95zM1615.6 1032.4h2.95v27.8h-2.95zM1618.2 1016.4h2.95v34.4h-2.95zM1620.9 1027.2h2.95v19.8h-2.95zM1623.5 1017.1h2.95v17.7h-2.95zM1626.2 1018.5h2.95v23.4h-2.95zM1628.8 1028.9h2.95v17.9h-2.95zM1631.5 1015.0h2.95v23.0h-2.95zM1634.1 1023.3h2.95v20.4h-2.95zM1636.8 1016.7h2.95v36.8h-2.95zM1639.4 1020.5h2.95v24.3h-2.95zM1642.1 1022.9h2.95v21.4h-2.95zM1644.7 1031.9h2.95v14.7h-2.95zM1647.4 1017.8h2.95v24.6h-2.95zM1650.0 1035.4h2.95v32.6h-2.95zM1652.7 1012.9h2.95v44.3h-2.95zM1655.3 1018.5h2.95v36.5h-2.95zM1658.0 1021.2h2.95v32.3h-2.95zM1660.6 1033.6h2.95v17.5h-2.95zM1663.3 1037.2h2.95v24.3h-2.95zM1665.9 1035.0h2.95v24.9h-2.95zM1668.6 1029.2h2.95v21.0h-2.95zM1671.2 1026.1h2.95v21.4h-2.95zM1673.9 1028.6h2.95v32.1h-2.95zM1676.5 1028.7h2.95v42.6h-2.95zM1679.2 1020.5h2.95v27.9h-2.95zM1681.8 1023.5h2.95v39.6h-2.95zM1684.5 1033.5h2.95v20.5h-2.95zM1687.1 1036.6h2.95v24.2h-2.95zM1689.8 1022.5h2.95v23.1h-2.95zM1692.4 1027.5h2.95v14.4h-2.95zM1695.1 1020.0h2.95v28.8h-2.95zM1697.7 1020.0h2.95v34.1h-2.95zM1700.4 1020.0h2.95v18.4h-2.95zM1703.0 1022.4h2.95v10.1h-2.95zM1705.6 1021.5h2.95v19.8h-2.95zM1708.3 1027.9h2.95v12.6h-2.95zM1710.9 1024.6h2.95v31.4h-2.95zM1713.6 1024.2h2.95v35.0h-2.95zM1716.2 1029.0h2.95v18.2h-2.95zM1718.9 1039.8h2.95v18.9h-2.95zM1721.5 1029.4h2.95v24.7h-2.95zM1724.2 1034.7h2.95v30.8h-2.95zM1726.8 1044.5h2.95v15.7h-2.95zM1729.5 1042.9h2.95v19.6h-2.95zM1732.1 1037.9h2.95v20.1h-2.95zM1734.8 1039.6h2.95v27.5h-2.95zM1737.4 1044.7h2.95v21.0h-2.95zM1740.1 1036.4h2.95v26.6h-2.95zM1742.7 1045.1h2.95v22.8h-2.95zM1745.4 1035.3h2.95v25.1h-2.95zM1748.0 1034.8h2.95v34.0h-2.95zM1750.7 1043.2h2.95v24.7h-2.95zM1753.3 1043.3h2.95v18.7h-2.95zM1756.0 1042.0h2.95v23.5h-2.95zM1758.6 1030.5h2.95v29.2h-2.95zM1761.3 1043.4h2.95v13.9h-2.95zM1763.9 1046.1h2.95v20.1h-2.95zM1766.6 1043.9h2.95v19.9h-2.95zM1769.2 1048.7h2.95v22.7h-2.95zM1771.9 1039.6h2.95v20.5h-2.95zM1774.5 1040.0h2.95v26.8h-2.95zM1777.2 1030.1h2.95v35.1h-2.95zM1779.8 1046.1h2.95v17.8h-2.95zM1782.5 1038.8h2.95v34.1h-2.95zM1785.1 1041.1h2.95v34.3h-2.95zM1787.8 1039.9h2.95v21.2h-2.95zM1790.4 1040.8h2.95v25.0h-2.95zM1793.0 1025.0h2.95v34.8h-2.95zM1795.7 1029.4h2.95v23.6h-2.95zM1798.3 1023.4h2.95v27.3h-2.95zM1801.0 1018.0h2.95v32.8h-2.95zM1803.6 1029.1h2.95v24.8h-2.95zM1806.3 1024.9h2.95v23.0h-2.95zM1808.9 1019.8h2.95v20.8h-2.95zM1811.6 1019.4h2.95v30.4h-2.95zM1814.2 1018.0h2.95v29.8h-2.95zM1816.9 1018.9h2.95v24.2h-2.95zM1819.5 1027.0h2.95v8.3h-2.95zM1822.2 1026.1h2.95v28.9h-2.95zM1824.8 1034.3h2.95v24.4h-2.95zM1827.5 1036.5h2.95v25.1h-2.95zM1830.1 1039.5h2.95v33.8h-2.95zM1832.8 1047.1h2.95v17.3h-2.95zM1835.4 1047.0h2.95v20.0h-2.95zM1838.1 1038.1h2.95v39.7h-2.95zM1840.7 1041.3h2.95v30.3h-2.95zM1843.4 1050.1h2.95v34.0h-2.95zM1846.0 1044.0h2.95v40.5h-2.95zM1848.7 1048.1h2.95v26.0h-2.95zM1851.3 1056.7h2.95v20.8h-2.95zM1854.0 1041.8h2.95v30.8h-2.95zM1856.6 1051.3h2.95v13.8h-2.95zM1859.3 1034.9h2.95v45.1h-2.95zM1861.9 1055.3h2.95v37.5h-2.95zM1864.6 1057.7h2.95v28.1h-2.95zM1867.2 1050.7h2.95v21.7h-2.95zM1869.9 1055.8h2.95v29.1h-2.95zM1872.5 1045.0h2.95v30.5h-2.95zM1875.2 1055.9h2.95v32.0h-2.95zM1877.8 1054.4h2.95v19.4h-2.95zM1880.4 1051.8h2.95v19.2h-2.95zM1883.1 1053.4h2.95v15.6h-2.95zM1885.7 1047.5h2.95v31.6h-2.95zM1888.4 1047.3h2.95v19.3h-2.95zM1891.0 1043.5h2.95v38.0h-2.95zM1893.7 1050.2h2.95v25.7h-2.95zM1896.3 1048.7h2.95v26.3h-2.95zM1899.0 1058.2h2.95v14.2h-2.95zM1901.6 1056.4h2.95v14.3h-2.95zM1904.3 1048.7h2.95v29.0h-2.95zM1906.9 1053.8h2.95v31.3h-2.95zM1909.6 1056.6h2.95v13.3h-2.95zM1912.2 1047.9h2.95v34.8h-2.95zM1914.9 1043.4h2.95v29.2h-2.95zM1917.5 1044.0h2.95v33.0h-2.95zM1920.2 1053.8h2.95v30.5h-2.95zM1922.8 1052.1h2.95v24.7h-2.95zM1925.5 1053.9h2.95v31.0h-2.95zM1928.1 1054.1h2.95v18.3h-2.95zM1930.8 1059.4h2.95v19.8h-2.95zM1933.4 1048.6h2.95v27.9h-2.95zM1936.1 1056.8h2.95v16.7h-2.95zM1938.7 1052.8h2.95v18.9h-2.95zM1941.4 1059.1h2.95v17.7h-2.95zM1944.0 1060.4h2.95v29.9h-2.95zM1946.7 1058.5h2.95v15.9h-2.95zM1949.3 1049.0h2.95v29.7h-2.95zM1952.0 1062.2h2.95v17.9h-2.95zM1954.6 1062.2h2.95v16.7h-2.95zM1957.3 1062.9h2.95v22.2h-2.95zM1959.9 1061.1h2.95v22.3h-2.95zM1962.6 1057.2h2.95v19.3h-2.95zM1965.2 1060.3h2.95v14.9h-2.95zM1967.9 1056.1h2.95v20.0h-2.95zM1970.5 1063.6h2.95v18.6h-2.95zM1973.1 1053.8h2.95v26.5h-2.95zM1975.8 1047.1h2.95v23.3h-2.95zM1978.4 1055.4h2.95v30.0h-2.95zM1981.1 1057.4h2.95v15.3h-2.95zM1983.7 1057.1h2.95v21.6h-2.95zM1986.4 1065.1h2.95v12.1h-2.95zM1989.0 1056.8h2.95v24.1h-2.95zM1991.7 1061.6h2.95v21.7h-2.95zM1994.3 1059.3h2.95v15.6h-2.95zM1997.0 1070.5h2.95v8.2h-2.95zM1999.6 1058.1h2.95v26.8h-2.95zM2002.3 1059.1h2.95v32.4h-2.95zM2004.9 1058.7h2.95v23.8h-2.95zM2007.6 1056.7h2.95v15.0h-2.95zM2010.2 1060.1h2.95v10.6h-2.95zM2012.9 1065.0h2.95v13.6h-2.95zM2015.5 1059.0h2.95v19.9h-2.95zM2018.2 1055.9h2.95v19.0h-2.95zM2020.8 1062.4h2.95v16.5h-2.95zM2023.5 1055.6h2.95v23.1h-2.95zM2026.1 1053.1h2.95v22.5h-2.95zM2028.8 1060.7h2.95v25.0h-2.95zM2031.4 1051.8h2.95v29.3h-2.95zM2034.1 1058.4h2.95v20.6h-2.95zM2036.7 1061.9h2.95v14.0h-2.95zM2039.4 1061.6h2.95v31.4h-2.95zM2042.0 1064.2h2.95v12.7h-2.95zM2044.7 1060.4h2.95v21.2h-2.95zM2047.3 1045.3h2.95v36.6h-2.95zM2050.0 1058.7h2.95v28.7h-2.95zM2052.6 1063.2h2.95v14.4h-2.95zM2055.3 1055.2h2.95v24.2h-2.95zM2057.9 1062.2h2.95v10.2h-2.95zM2060.5 1064.9h2.95v24.8h-2.95zM2063.2 1055.6h2.95v19.7h-2.95zM2065.8 1060.0h2.95v16.7h-2.95zM2068.5 1060.0h2.95v15.3h-2.95zM2071.1 1060.3h2.95v18.5h-2.95zM2073.8 1059.6h2.95v14.7h-2.95zM2076.4 1065.9h2.95v9.1h-2.95zM2079.1 1060.7h2.95v21.3h-2.95zM2081.7 1065.0h2.95v17.9h-2.95zM2084.4 1063.7h2.95v24.9h-2.95zM2087.0 1050.9h2.95v21.4h-2.95zM2089.7 1052.4h2.95v25.3h-2.95zM2092.3 1058.2h2.95v21.0h-2.95zM2095.0 1054.8h2.95v24.6h-2.95zM2097.6 1053.0h2.95v20.2h-2.95zM2100.3 1059.2h2.95v11.9h-2.95zM2102.9 1060.2h2.95v11.9h-2.95zM2105.6 1052.6h2.95v24.4h-2.95zM2108.2 1053.7h2.95v19.8h-2.95zM2110.9 1045.7h2.95v28.5h-2.95zM2113.5 1056.5h2.95v21.8h-2.95zM2116.2 1061.3h2.95v14.0h-2.95zM2118.8 1060.8h2.95v14.9h-2.95zM2121.5 1059.8h2.95v28.3h-2.95zM2124.1 1053.4h2.95v34.5h-2.95zM2126.8 1048.1h2.95v31.2h-2.95zM2129.4 1055.3h2.95v20.0h-2.95zM2132.1 1047.2h2.95v42.1h-2.95zM2134.7 1056.0h2.95v31.5h-2.95zM2137.4 1064.7h2.95v11.0h-2.95zM2140.0 1055.4h2.95v15.2h-2.95zM2142.7 1053.8h2.95v20.8h-2.95zM2145.3 1064.1h2.95v12.3h-2.95zM2148.0 1048.0h2.95v20.4h-2.95zM2150.6 1054.1h2.95v27.2h-2.95zM2153.2 1061.8h2.95v14.6h-2.95zM2155.9 1050.0h2.95v24.4h-2.95zM2158.5 1060.6h2.95v17.7h-2.95zM2161.2 1059.5h2.95v34.2h-2.95zM2163.8 1059.6h2.95v14.0h-2.95zM2166.5 1055.1h2.51v28.6h-2.51z"/>
</g>
<g fill="#000">
<rect x="165" y="23" width="7.8" height="1647.6"/>
<rect x="2166" y="23" width="5.6" height="1620"/>
<rect x="165" y="23" width="2006.6" height="7.8"/>
<rect x="165" y="1635.2" width="2006.6" height="7.8"/>
<rect x="166.2" y="1636" width="5.2" height="34.6"/><rect x="451.9" y="1636" width="5.2" height="34.6"/><rect x="737.6" y="1636" width="5.2" height="34.6"/><rect x="1023.3" y="1636" width="5.2" height="34.6"/><rect x="1309.0" y="1636" width="5.2" height="34.6"/><rect x="1594.7" y="1636" width="5.2" height="34.6"/><rect x="1880.4" y="1636" width="5.2" height="34.6"/><rect x="2166.1" y="1636" width="5.2" height="34.6"/>
<polygon points="256.3,364.5 277.1,385.7 256.3,406.9 235.5,385.7"/><polygon points="303.2,490.2 324.0,511.4 303.2,532.6 282.4,511.4"/><polygon points="336.1,591.8 356.9,613.0 336.1,634.2 315.3,613.0"/><polygon points="467.5,720.7 488.3,741.9 467.5,763.1 446.7,741.9"/><polygon points="427.9,678.7 452.4,723.3 402.5,723.3"/><polygon points="656.7,645.7 682.0,691.0 631.0,691.0"/><polygon points="1033.4,695.2 1058.9,739.7 1009.3,739.7"/><polygon points="1401.6,866.7 1427.7,912.0 1377.5,912.0"/><polygon points="1878.0,982.0 1903.5,1026.5 1852.5,1026.5"/><rect x="670.3" y="778.8" width="43.0" height="43.1"/><rect x="861.6" y="847.5" width="43.5" height="43.5"/><rect x="1143.8" y="945.2" width="43.9" height="43.4"/><polygon points="936.5,855.0 942.5,873.6 962.1,873.6 946.3,885.1 952.3,903.7 936.5,892.2 920.7,903.7 926.7,885.1 910.9,873.6 930.5,873.6"/><polygon points="1127.7,877.8 1133.6,896.0 1152.8,896.0 1137.3,907.3 1143.2,925.6 1127.7,914.3 1112.2,925.6 1118.1,907.3 1102.6,896.0 1121.8,896.0"/><polygon points="1628.7,962.2 1634.4,979.6 1652.7,979.6 1637.9,990.4 1643.5,1007.8 1628.7,997.0 1613.9,1007.8 1619.5,990.4 1604.7,979.6 1623.0,979.6"/><polygon points="1815.1,962.2 1820.8,979.6 1839.1,979.6 1824.3,990.4 1829.9,1007.8 1815.1,997.0 1800.3,1007.8 1805.9,990.4 1791.1,979.6 1809.4,979.6"/>
<rect x="1620.6" y="83.5" width="46.0" height="46.3"/><rect x="1672.9" y="102.6" width="100.4" height="4.6"/><polygon points="1647.3,217.3 1654.1,238.2 1676.0,238.2 1658.3,251.1 1665.1,271.9 1647.3,259.0 1629.5,271.9 1636.3,251.1 1618.6,238.2 1640.5,238.2"/><rect x="1681.2" y="245.9" width="100.4" height="3.8"/><polygon points="1662.7,326.2 1696.3,393.6 1628.9,393.6"/><rect x="1710.9" y="368.7" width="100.4" height="3.6"/><polygon points="1649.3,481.3 1677.8,510.0 1649.3,538.7 1620.8,510.0"/><rect x="1683.5" y="512.6" width="103.3" height="4.2"/>
</g>
<g font-size="92">
<text x="169.8" y="1762.8" text-anchor="middle">10</text><text x="455.5" y="1762.8" text-anchor="middle">20</text><text x="741.2" y="1762.8" text-anchor="middle">30</text><text x="1026.9" y="1762.8" text-anchor="middle">40</text><text x="1312.6" y="1762.8" text-anchor="middle">50</text><text x="1598.3" y="1762.8" text-anchor="middle">60</text><text x="1884.0" y="1762.8" text-anchor="middle">70</text><text x="2169.7" y="1762.8" text-anchor="middle">80</text>
</g>
<text x="943.4" y="1855.5" font-size="100">2θ(degree)</text>
<text transform="translate(102 1162.6) rotate(-90)" x="0" y="0" font-size="99.5">Intensity(a.u.)</text>
<g font-size="100">
<text x="1890.9" y="129.8">ZrO<tspan dy="18">2</tspan></text>
<text x="1902.8" y="271.5">MgO</text>
<text x="1881.8" y="393.6">MgF<tspan dy="19">2</tspan></text>
<text x="1782.9" y="538.3">Zr<tspan dy="19.4">3</tspan><tspan dy="-19.4">O</tspan><tspan dy="19.4">2</tspan><tspan dy="-19.4">F</tspan><tspan dy="19.4">8</tspan></text>
</g>
<g font-size="91">
<text x="1899.4" y="1004.6">20 min</text>
<text x="1902.6" y="1192.5">15 min</text>
<text x="1894.3" y="1364.6">10 min</text>
<text x="1929.5" y="1539.8">5 min</text>
</g>
</svg>
</body></html>
